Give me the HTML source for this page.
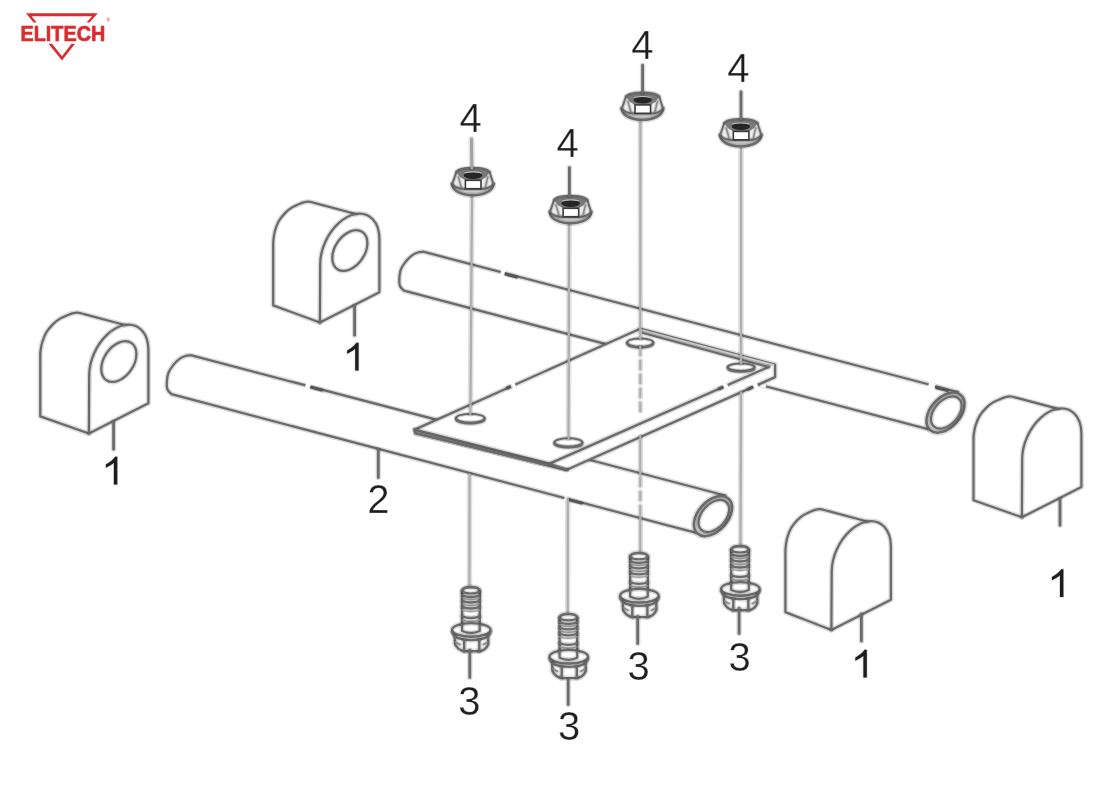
<!DOCTYPE html>
<html><head><meta charset="utf-8"><style>
html,body{margin:0;padding:0;background:#fff;}
body{width:1095px;height:797px;overflow:hidden;font-family:"Liberation Sans",sans-serif;}
svg{display:block;}
</style></head><body>
<svg width="1095" height="797" viewBox="0 0 1095 797">
<rect width="1095" height="797" fill="#fff"/>
<g>
<g fill="#dc2a2e" style="will-change:transform">
<path d="M26,13.3 L97.8,13.3 L89.5,22.6 L86.6,22.6 L92.2,16.3 L31.6,16.3 L36.6,22.6 L33.6,22.6 Z"/>
<path d="M48.5,43.8 L52,43.8 L62,56.3 L71.5,43.8 L75,43.8 L62,60.6 Z"/>
<text x="20.6" y="41" font-family="Liberation Sans" font-weight="bold" font-size="22.6" textLength="84.6" lengthAdjust="spacingAndGlyphs" stroke="#dc2a2e" stroke-width="0.7">ELITECH</text>
</g>
<text x="106.5" y="22" font-family="Liberation Sans" font-size="5" fill="#dc2a2e">®</text>
<path d="M928,429.2 L404,290.7 C403.33,289.92 400.78,287.93 400,286 C399.22,284.07 399.18,281.78 399.3,279.1 C399.42,276.42 399.7,272.73 400.7,269.9 C401.7,267.07 403.47,264.48 405.3,262.1 C407.13,259.72 409.63,257.2 411.7,255.6 C413.77,254 415.78,253.15 417.7,252.5 C419.62,251.85 422.28,251.83 423.2,251.7 L957.7,392" fill="none" stroke="#000" stroke-opacity="0.14" stroke-width="5.1" stroke-linejoin="round" stroke-linecap="round" />
<path d="M928,429.2 L404,290.7 C403.33,289.92 400.78,287.93 400,286 C399.22,284.07 399.18,281.78 399.3,279.1 C399.42,276.42 399.7,272.73 400.7,269.9 C401.7,267.07 403.47,264.48 405.3,262.1 C407.13,259.72 409.63,257.2 411.7,255.6 C413.77,254 415.78,253.15 417.7,252.5 C419.62,251.85 422.28,251.83 423.2,251.7 L957.7,392" fill="none" stroke="#6a6a6a" stroke-width="2.25" stroke-linejoin="round" stroke-linecap="round" />
<path d="M961,395.2 C963.94,397.82 965.13,402.17 964.3,407.28 C963.47,412.4 960.7,417.86 956.59,422.48 C952.48,427.09 947.37,430.48 942.38,431.89 C937.39,433.3 932.94,432.62 930,430 C927.06,427.38 925.87,423.03 926.7,417.92 C927.53,412.8 930.3,407.34 934.41,402.72 C938.52,398.11 943.63,394.72 948.62,393.31 C953.61,391.9 958.06,392.58 961,395.2Z" fill="#e0e0e0"/>
<path d="M961,395.2 C963.94,397.82 965.13,402.17 964.3,407.28 C963.47,412.4 960.7,417.86 956.59,422.48 C952.48,427.09 947.37,430.48 942.38,431.89 C937.39,433.3 932.94,432.62 930,430 C927.06,427.38 925.87,423.03 926.7,417.92 C927.53,412.8 930.3,407.34 934.41,402.72 C938.52,398.11 943.63,394.72 948.62,393.31 C953.61,391.9 958.06,392.58 961,395.2Z" fill="none" stroke="#000" stroke-opacity="0.14" stroke-width="5.78" stroke-linejoin="round" stroke-linecap="round" />
<path d="M961,395.2 C963.94,397.82 965.13,402.17 964.3,407.28 C963.47,412.4 960.7,417.86 956.59,422.48 C952.48,427.09 947.37,430.48 942.38,431.89 C937.39,433.3 932.94,432.62 930,430 C927.06,427.38 925.87,423.03 926.7,417.92 C927.53,412.8 930.3,407.34 934.41,402.72 C938.52,398.11 943.63,394.72 948.62,393.31 C953.61,391.9 958.06,392.58 961,395.2Z" fill="none" stroke="#6a6a6a" stroke-width="2.55" stroke-linejoin="round" stroke-linecap="round" />
<path d="M958.74,398.54 C961.1,400.64 962.05,404.12 961.38,408.22 C960.71,412.33 958.48,416.71 955.18,420.42 C951.89,424.12 947.79,426.84 943.79,427.97 C939.79,429.1 936.22,428.56 933.86,426.46 C931.5,424.36 930.55,420.88 931.22,416.78 C931.89,412.67 934.12,408.29 937.42,404.58 C940.71,400.88 944.81,398.16 948.81,397.03 C952.81,395.9 956.38,396.44 958.74,398.54Z" fill="#fff"/>
<path d="M958.74,398.54 C961.1,400.64 962.05,404.12 961.38,408.22 C960.71,412.33 958.48,416.71 955.18,420.42 C951.89,424.12 947.79,426.84 943.79,427.97 C939.79,429.1 936.22,428.56 933.86,426.46 C931.5,424.36 930.55,420.88 931.22,416.78 C931.89,412.67 934.12,408.29 937.42,404.58 C940.71,400.88 944.81,398.16 948.81,397.03 C952.81,395.9 956.38,396.44 958.74,398.54Z" fill="none" stroke="#000" stroke-opacity="0.14" stroke-width="5.1" stroke-linejoin="round" stroke-linecap="round" />
<path d="M958.74,398.54 C961.1,400.64 962.05,404.12 961.38,408.22 C960.71,412.33 958.48,416.71 955.18,420.42 C951.89,424.12 947.79,426.84 943.79,427.97 C939.79,429.1 936.22,428.56 933.86,426.46 C931.5,424.36 930.55,420.88 931.22,416.78 C931.89,412.67 934.12,408.29 937.42,404.58 C940.71,400.88 944.81,398.16 948.81,397.03 C952.81,395.9 956.38,396.44 958.74,398.54Z" fill="none" stroke="#6a6a6a" stroke-width="2.25" stroke-linejoin="round" stroke-linecap="round" />
<path d="M695.5,532.7 L171.5,394.2 C170.83,393.42 168.28,391.43 167.5,389.5 C166.72,387.57 166.68,385.28 166.8,382.6 C166.92,379.92 167.2,376.23 168.2,373.4 C169.2,370.57 170.97,367.98 172.8,365.6 C174.63,363.22 177.13,360.7 179.2,359.1 C181.27,357.5 183.28,356.65 185.2,356 C187.12,355.35 189.78,355.33 190.7,355.2 L725.2,495.5" fill="none" stroke="#000" stroke-opacity="0.14" stroke-width="5.1" stroke-linejoin="round" stroke-linecap="round" />
<path d="M695.5,532.7 L171.5,394.2 C170.83,393.42 168.28,391.43 167.5,389.5 C166.72,387.57 166.68,385.28 166.8,382.6 C166.92,379.92 167.2,376.23 168.2,373.4 C169.2,370.57 170.97,367.98 172.8,365.6 C174.63,363.22 177.13,360.7 179.2,359.1 C181.27,357.5 183.28,356.65 185.2,356 C187.12,355.35 189.78,355.33 190.7,355.2 L725.2,495.5" fill="none" stroke="#6a6a6a" stroke-width="2.25" stroke-linejoin="round" stroke-linecap="round" />
<path d="M728.5,498.7 C731.44,501.32 732.63,505.67 731.8,510.78 C730.97,515.9 728.2,521.36 724.09,525.98 C719.98,530.59 714.87,533.98 709.88,535.39 C704.89,536.8 700.44,536.12 697.5,533.5 C694.56,530.88 693.37,526.53 694.2,521.42 C695.03,516.3 697.8,510.84 701.91,506.22 C706.02,501.61 711.13,498.22 716.12,496.81 C721.11,495.4 725.56,496.08 728.5,498.7Z" fill="#e0e0e0"/>
<path d="M728.5,498.7 C731.44,501.32 732.63,505.67 731.8,510.78 C730.97,515.9 728.2,521.36 724.09,525.98 C719.98,530.59 714.87,533.98 709.88,535.39 C704.89,536.8 700.44,536.12 697.5,533.5 C694.56,530.88 693.37,526.53 694.2,521.42 C695.03,516.3 697.8,510.84 701.91,506.22 C706.02,501.61 711.13,498.22 716.12,496.81 C721.11,495.4 725.56,496.08 728.5,498.7Z" fill="none" stroke="#000" stroke-opacity="0.14" stroke-width="5.78" stroke-linejoin="round" stroke-linecap="round" />
<path d="M728.5,498.7 C731.44,501.32 732.63,505.67 731.8,510.78 C730.97,515.9 728.2,521.36 724.09,525.98 C719.98,530.59 714.87,533.98 709.88,535.39 C704.89,536.8 700.44,536.12 697.5,533.5 C694.56,530.88 693.37,526.53 694.2,521.42 C695.03,516.3 697.8,510.84 701.91,506.22 C706.02,501.61 711.13,498.22 716.12,496.81 C721.11,495.4 725.56,496.08 728.5,498.7Z" fill="none" stroke="#6a6a6a" stroke-width="2.55" stroke-linejoin="round" stroke-linecap="round" />
<path d="M726.24,502.04 C728.6,504.14 729.55,507.62 728.88,511.72 C728.21,515.83 725.98,520.21 722.68,523.92 C719.39,527.62 715.29,530.34 711.29,531.47 C707.29,532.6 703.72,532.06 701.36,529.96 C699,527.86 698.05,524.38 698.72,520.28 C699.39,516.17 701.62,511.79 704.92,508.08 C708.21,504.38 712.31,501.66 716.31,500.53 C720.31,499.4 723.88,499.94 726.24,502.04Z" fill="#fff"/>
<path d="M726.24,502.04 C728.6,504.14 729.55,507.62 728.88,511.72 C728.21,515.83 725.98,520.21 722.68,523.92 C719.39,527.62 715.29,530.34 711.29,531.47 C707.29,532.6 703.72,532.06 701.36,529.96 C699,527.86 698.05,524.38 698.72,520.28 C699.39,516.17 701.62,511.79 704.92,508.08 C708.21,504.38 712.31,501.66 716.31,500.53 C720.31,499.4 723.88,499.94 726.24,502.04Z" fill="none" stroke="#000" stroke-opacity="0.14" stroke-width="5.1" stroke-linejoin="round" stroke-linecap="round" />
<path d="M726.24,502.04 C728.6,504.14 729.55,507.62 728.88,511.72 C728.21,515.83 725.98,520.21 722.68,523.92 C719.39,527.62 715.29,530.34 711.29,531.47 C707.29,532.6 703.72,532.06 701.36,529.96 C699,527.86 698.05,524.38 698.72,520.28 C699.39,516.17 701.62,511.79 704.92,508.08 C708.21,504.38 712.31,501.66 716.31,500.53 C720.31,499.4 723.88,499.94 726.24,502.04Z" fill="none" stroke="#6a6a6a" stroke-width="2.25" stroke-linejoin="round" stroke-linecap="round" />
<line x1="305.5" y1="385.39" x2="310.5" y2="386.71" stroke="#fff" stroke-width="5" stroke-linecap="butt"/>
<line x1="311.5" y1="387.57" x2="321.5" y2="390.2" stroke="#000" stroke-opacity="0.14" stroke-width="4.94" stroke-linecap="round"/>
<line x1="311.5" y1="387.57" x2="321.5" y2="390.2" stroke="#555" stroke-width="2.66" stroke-linecap="round"/>
<line x1="500.8" y1="272.11" x2="504.8" y2="273.16" stroke="#fff" stroke-width="5" stroke-linecap="butt"/>
<line x1="506" y1="274.38" x2="516.5" y2="277.14" stroke="#000" stroke-opacity="0.14" stroke-width="4.94" stroke-linecap="round"/>
<line x1="506" y1="274.38" x2="516.5" y2="277.14" stroke="#555" stroke-width="2.66" stroke-linecap="round"/>
<line x1="928.6" y1="384.62" x2="935" y2="386.3" stroke="#fff" stroke-width="5" stroke-linecap="butt"/>
<line x1="936.5" y1="387.9" x2="947.5" y2="390.79" stroke="#000" stroke-opacity="0.14" stroke-width="4.94" stroke-linecap="round"/>
<line x1="936.5" y1="387.9" x2="947.5" y2="390.79" stroke="#555" stroke-width="2.66" stroke-linecap="round"/>
<line x1="564.5" y1="498.07" x2="568.2" y2="499.05" stroke="#fff" stroke-width="5" stroke-linecap="butt"/>
<line x1="569.5" y1="499.99" x2="581.5" y2="503.16" stroke="#000" stroke-opacity="0.14" stroke-width="4.94" stroke-linecap="round"/>
<line x1="569.5" y1="499.99" x2="581.5" y2="503.16" stroke="#555" stroke-width="2.66" stroke-linecap="round"/>
<line x1="759.8" y1="384.74" x2="765.8" y2="386.32" stroke="#fff" stroke-width="3.4"/>
<path d="M414.6,429.6 L640.2,328.7 L775.1,364.5 L775.1,377.1 L566.8,469.8 L415.6,433.2 Z" fill="#fff"/>
<path d="M414.6,429.6 L640.2,328.7 L775.1,364.5 L775.1,377.1 L566.8,469.8 L415.6,433.2 Z" fill="none" stroke="#000" stroke-opacity="0.14" stroke-width="5.1" stroke-linejoin="round" stroke-linecap="round" />
<path d="M414.6,429.6 L640.2,328.7 L775.1,364.5 L775.1,377.1 L566.8,469.8 L415.6,433.2 Z" fill="none" stroke="#6a6a6a" stroke-width="2.25" stroke-linejoin="round" stroke-linecap="round" />
<path d="M414.6,429.6 L549.6,463.6 L566.8,469.8 L415.6,433.2 Z" fill="#b8b8b8"/>
<path d="M640.2,328.7 L775.1,364.5 L768.5,367 L643,333 Z" fill="#cccccc"/>
<path d="M414.6,429.6 L549.6,463.6 L768.5,367" fill="none" stroke="#000" stroke-opacity="0.14" stroke-width="5.44" stroke-linejoin="round" stroke-linecap="round" />
<path d="M414.6,429.6 L549.6,463.6 L768.5,367" fill="none" stroke="#6a6a6a" stroke-width="2.4" stroke-linejoin="round" stroke-linecap="round" />
<path d="M415.6,433.2 L566.8,469.8" fill="none" stroke="#000" stroke-opacity="0.14" stroke-width="5.44" stroke-linejoin="round" stroke-linecap="round" />
<path d="M415.6,433.2 L566.8,469.8" fill="none" stroke="#6a6a6a" stroke-width="2.4" stroke-linejoin="round" stroke-linecap="round" />
<path d="M643,333 L768.5,367" fill="none" stroke="#000" stroke-opacity="0.14" stroke-width="4.76" stroke-linejoin="round" stroke-linecap="round" />
<path d="M643,333 L768.5,367" fill="none" stroke="#6a6a6a" stroke-width="2.1" stroke-linejoin="round" stroke-linecap="round" />
<path d="M549.6,463.6 L566.8,469.8" fill="none" stroke="#000" stroke-opacity="0.14" stroke-width="4.42" stroke-linejoin="round" stroke-linecap="round" />
<path d="M549.6,463.6 L566.8,469.8" fill="none" stroke="#6a6a6a" stroke-width="1.95" stroke-linejoin="round" stroke-linecap="round" />
<line x1="510.8" y1="386.57" x2="515.2" y2="384.61" stroke="#fff" stroke-width="5" stroke-linecap="butt"/>
<line x1="507.5" y1="387.85" x2="509.8" y2="386.82" stroke="#000" stroke-opacity="0.14" stroke-width="5.72" stroke-linecap="round"/>
<line x1="507.5" y1="387.85" x2="509.8" y2="386.82" stroke="#555" stroke-width="3.08" stroke-linecap="round"/>
<line x1="723.3" y1="386.95" x2="727.6" y2="385.05" stroke="#fff" stroke-width="5" stroke-linecap="butt"/>
<line x1="719.5" y1="388.62" x2="722.2" y2="387.43" stroke="#000" stroke-opacity="0.14" stroke-width="5.2" stroke-linecap="round"/>
<line x1="719.5" y1="388.62" x2="722.2" y2="387.43" stroke="#555" stroke-width="2.8" stroke-linecap="round"/>
<line x1="753.4" y1="386.76" x2="757.6" y2="384.89" stroke="#fff" stroke-width="5" stroke-linecap="butt"/>
<line x1="748.5" y1="388.94" x2="751.5" y2="387.6" stroke="#000" stroke-opacity="0.14" stroke-width="5.2" stroke-linecap="round"/>
<line x1="748.5" y1="388.94" x2="751.5" y2="387.6" stroke="#555" stroke-width="2.8" stroke-linecap="round"/>
<path d="M484.7,418.3 C484.7,419.47 483.18,420.59 480.48,421.41 C477.78,422.24 474.12,422.7 470.3,422.7 C466.48,422.7 462.82,422.24 460.12,421.41 C457.42,420.59 455.9,419.47 455.9,418.3 C455.9,417.13 457.42,416.01 460.12,415.19 C462.82,414.36 466.48,413.9 470.3,413.9 C474.12,413.9 477.78,414.36 480.48,415.19 C483.18,416.01 484.7,417.13 484.7,418.3Z" fill="none" stroke="#000" stroke-opacity="0.14" stroke-width="4.42" stroke-linejoin="round" stroke-linecap="round" />
<path d="M484.7,418.3 C484.7,419.47 483.18,420.59 480.48,421.41 C477.78,422.24 474.12,422.7 470.3,422.7 C466.48,422.7 462.82,422.24 460.12,421.41 C457.42,420.59 455.9,419.47 455.9,418.3 C455.9,417.13 457.42,416.01 460.12,415.19 C462.82,414.36 466.48,413.9 470.3,413.9 C474.12,413.9 477.78,414.36 480.48,415.19 C483.18,416.01 484.7,417.13 484.7,418.3Z" fill="none" stroke="#6a6a6a" stroke-width="1.95" stroke-linejoin="round" stroke-linecap="round" />
<path d="M484.2,419.5 C484.2,420.53 482.74,421.53 480.13,422.26 C477.52,422.99 473.99,423.4 470.3,423.4 C466.61,423.4 463.08,422.99 460.47,422.26 C457.86,421.53 456.4,420.53 456.4,419.5" fill="none" stroke="#000" stroke-opacity="0.14" stroke-width="5.1" stroke-linejoin="round" stroke-linecap="round" />
<path d="M484.2,419.5 C484.2,420.53 482.74,421.53 480.13,422.26 C477.52,422.99 473.99,423.4 470.3,423.4 C466.61,423.4 463.08,422.99 460.47,422.26 C457.86,421.53 456.4,420.53 456.4,419.5" fill="none" stroke="#6a6a6a" stroke-width="2.25" stroke-linejoin="round" stroke-linecap="round" />
<path d="M582.5,442.5 C582.5,443.61 581.01,444.68 578.37,445.47 C575.73,446.26 572.14,446.7 568.4,446.7 C564.66,446.7 561.07,446.26 558.43,445.47 C555.79,444.68 554.3,443.61 554.3,442.5 C554.3,441.39 555.79,440.32 558.43,439.53 C561.07,438.74 564.66,438.3 568.4,438.3 C572.14,438.3 575.73,438.74 578.37,439.53 C581.01,440.32 582.5,441.39 582.5,442.5Z" fill="none" stroke="#000" stroke-opacity="0.14" stroke-width="4.42" stroke-linejoin="round" stroke-linecap="round" />
<path d="M582.5,442.5 C582.5,443.61 581.01,444.68 578.37,445.47 C575.73,446.26 572.14,446.7 568.4,446.7 C564.66,446.7 561.07,446.26 558.43,445.47 C555.79,444.68 554.3,443.61 554.3,442.5 C554.3,441.39 555.79,440.32 558.43,439.53 C561.07,438.74 564.66,438.3 568.4,438.3 C572.14,438.3 575.73,438.74 578.37,439.53 C581.01,440.32 582.5,441.39 582.5,442.5Z" fill="none" stroke="#6a6a6a" stroke-width="1.95" stroke-linejoin="round" stroke-linecap="round" />
<path d="M582,443.7 C582,444.68 580.57,445.62 578.02,446.32 C575.47,447.01 572.01,447.4 568.4,447.4 C564.79,447.4 561.33,447.01 558.78,446.32 C556.23,445.62 554.8,444.68 554.8,443.7" fill="none" stroke="#000" stroke-opacity="0.14" stroke-width="5.1" stroke-linejoin="round" stroke-linecap="round" />
<path d="M582,443.7 C582,444.68 580.57,445.62 578.02,446.32 C575.47,447.01 572.01,447.4 568.4,447.4 C564.79,447.4 561.33,447.01 558.78,446.32 C556.23,445.62 554.8,444.68 554.8,443.7" fill="none" stroke="#6a6a6a" stroke-width="2.25" stroke-linejoin="round" stroke-linecap="round" />
<path d="M653.4,342.6 C653.4,343.71 652.01,344.78 649.53,345.57 C647.06,346.36 643.7,346.8 640.2,346.8 C636.7,346.8 633.34,346.36 630.87,345.57 C628.39,344.78 627,343.71 627,342.6 C627,341.49 628.39,340.42 630.87,339.63 C633.34,338.84 636.7,338.4 640.2,338.4 C643.7,338.4 647.06,338.84 649.53,339.63 C652.01,340.42 653.4,341.49 653.4,342.6Z" fill="none" stroke="#000" stroke-opacity="0.14" stroke-width="4.42" stroke-linejoin="round" stroke-linecap="round" />
<path d="M653.4,342.6 C653.4,343.71 652.01,344.78 649.53,345.57 C647.06,346.36 643.7,346.8 640.2,346.8 C636.7,346.8 633.34,346.36 630.87,345.57 C628.39,344.78 627,343.71 627,342.6 C627,341.49 628.39,340.42 630.87,339.63 C633.34,338.84 636.7,338.4 640.2,338.4 C643.7,338.4 647.06,338.84 649.53,339.63 C652.01,340.42 653.4,341.49 653.4,342.6Z" fill="none" stroke="#6a6a6a" stroke-width="1.95" stroke-linejoin="round" stroke-linecap="round" />
<path d="M652.9,343.8 C652.9,344.78 651.56,345.72 649.18,346.42 C646.8,347.11 643.57,347.5 640.2,347.5 C636.83,347.5 633.6,347.11 631.22,346.42 C628.84,345.72 627.5,344.78 627.5,343.8" fill="none" stroke="#000" stroke-opacity="0.14" stroke-width="5.1" stroke-linejoin="round" stroke-linecap="round" />
<path d="M652.9,343.8 C652.9,344.78 651.56,345.72 649.18,346.42 C646.8,347.11 643.57,347.5 640.2,347.5 C636.83,347.5 633.6,347.11 631.22,346.42 C628.84,345.72 627.5,344.78 627.5,343.8" fill="none" stroke="#6a6a6a" stroke-width="2.25" stroke-linejoin="round" stroke-linecap="round" />
<path d="M754.6,367.2 C754.6,368.21 753.18,369.17 750.65,369.89 C748.11,370.6 744.68,371 741.1,371 C737.52,371 734.09,370.6 731.55,369.89 C729.02,369.17 727.6,368.21 727.6,367.2 C727.6,366.19 729.02,365.23 731.55,364.51 C734.09,363.8 737.52,363.4 741.1,363.4 C744.68,363.4 748.11,363.8 750.65,364.51 C753.18,365.23 754.6,366.19 754.6,367.2Z" fill="none" stroke="#000" stroke-opacity="0.14" stroke-width="4.42" stroke-linejoin="round" stroke-linecap="round" />
<path d="M754.6,367.2 C754.6,368.21 753.18,369.17 750.65,369.89 C748.11,370.6 744.68,371 741.1,371 C737.52,371 734.09,370.6 731.55,369.89 C729.02,369.17 727.6,368.21 727.6,367.2 C727.6,366.19 729.02,365.23 731.55,364.51 C734.09,363.8 737.52,363.4 741.1,363.4 C744.68,363.4 748.11,363.8 750.65,364.51 C753.18,365.23 754.6,366.19 754.6,367.2Z" fill="none" stroke="#6a6a6a" stroke-width="1.95" stroke-linejoin="round" stroke-linecap="round" />
<path d="M754.1,368.4 C754.1,369.28 752.73,370.11 750.29,370.73 C747.85,371.35 744.55,371.7 741.1,371.7 C737.65,371.7 734.35,371.35 731.91,370.73 C729.47,370.11 728.1,369.28 728.1,368.4" fill="none" stroke="#000" stroke-opacity="0.14" stroke-width="5.1" stroke-linejoin="round" stroke-linecap="round" />
<path d="M754.1,368.4 C754.1,369.28 752.73,370.11 750.29,370.73 C747.85,371.35 744.55,371.7 741.1,371.7 C737.65,371.7 734.35,371.35 731.91,370.73 C729.47,370.11 728.1,369.28 728.1,368.4" fill="none" stroke="#6a6a6a" stroke-width="2.25" stroke-linejoin="round" stroke-linecap="round" />
<line x1="472" y1="196" x2="470.4" y2="414" fill="none" stroke="#000" stroke-opacity="0.12" stroke-width="5.5" stroke-linejoin="round" stroke-linecap="round" />
<line x1="472" y1="196" x2="470.4" y2="414" fill="none" stroke="#afafaf" stroke-width="2.3" stroke-linejoin="round" stroke-linecap="round" />
<line x1="469.6" y1="474.5" x2="469.4" y2="586" fill="none" stroke="#000" stroke-opacity="0.12" stroke-width="5.5" stroke-linejoin="round" stroke-linecap="round" />
<line x1="469.6" y1="474.5" x2="469.4" y2="586" fill="none" stroke="#afafaf" stroke-width="2.3" stroke-linejoin="round" stroke-linecap="round" />
<line x1="569.1" y1="222" x2="568.5" y2="438.5" fill="none" stroke="#000" stroke-opacity="0.12" stroke-width="5.5" stroke-linejoin="round" stroke-linecap="round" />
<line x1="569.1" y1="222" x2="568.5" y2="438.5" fill="none" stroke="#afafaf" stroke-width="2.3" stroke-linejoin="round" stroke-linecap="round" />
<line x1="567.8" y1="499" x2="567.7" y2="612.7" fill="none" stroke="#000" stroke-opacity="0.12" stroke-width="5.5" stroke-linejoin="round" stroke-linecap="round" />
<line x1="567.8" y1="499" x2="567.7" y2="612.7" fill="none" stroke="#afafaf" stroke-width="2.3" stroke-linejoin="round" stroke-linecap="round" />
<line x1="640.4" y1="119" x2="640.3" y2="338.4" fill="none" stroke="#000" stroke-opacity="0.12" stroke-width="5.5" stroke-linejoin="round" stroke-linecap="round" />
<line x1="640.4" y1="119" x2="640.3" y2="338.4" fill="none" stroke="#afafaf" stroke-width="2.3" stroke-linejoin="round" stroke-linecap="round" />
<line x1="640.3" y1="347" x2="640.3" y2="414" fill="none" stroke="#000" stroke-opacity="0.12" stroke-width="5.5" stroke-linejoin="round" stroke-linecap="round" stroke-dasharray="8,6"/>
<line x1="640.3" y1="347" x2="640.3" y2="414" fill="none" stroke="#afafaf" stroke-width="2.3" stroke-linejoin="round" stroke-linecap="round" stroke-dasharray="8,6"/>
<line x1="640.3" y1="437" x2="640.3" y2="474" fill="none" stroke="#000" stroke-opacity="0.12" stroke-width="5.5" stroke-linejoin="round" stroke-linecap="round" />
<line x1="640.3" y1="437" x2="640.3" y2="474" fill="none" stroke="#afafaf" stroke-width="2.3" stroke-linejoin="round" stroke-linecap="round" />
<line x1="640.3" y1="478" x2="640.3" y2="517.5" fill="none" stroke="#000" stroke-opacity="0.12" stroke-width="5.5" stroke-linejoin="round" stroke-linecap="round" stroke-dasharray="8,6"/>
<line x1="640.3" y1="478" x2="640.3" y2="517.5" fill="none" stroke="#afafaf" stroke-width="2.3" stroke-linejoin="round" stroke-linecap="round" stroke-dasharray="8,6"/>
<line x1="640.3" y1="517.5" x2="640.3" y2="552" fill="none" stroke="#000" stroke-opacity="0.12" stroke-width="5.5" stroke-linejoin="round" stroke-linecap="round" />
<line x1="640.3" y1="517.5" x2="640.3" y2="552" fill="none" stroke="#afafaf" stroke-width="2.3" stroke-linejoin="round" stroke-linecap="round" />
<line x1="741" y1="145" x2="741" y2="363.4" fill="none" stroke="#000" stroke-opacity="0.12" stroke-width="5.5" stroke-linejoin="round" stroke-linecap="round" />
<line x1="741" y1="145" x2="741" y2="363.4" fill="none" stroke="#afafaf" stroke-width="2.3" stroke-linejoin="round" stroke-linecap="round" />
<line x1="741" y1="392.5" x2="740.5" y2="545.5" fill="none" stroke="#000" stroke-opacity="0.12" stroke-width="5.5" stroke-linejoin="round" stroke-linecap="round" />
<line x1="741" y1="392.5" x2="740.5" y2="545.5" fill="none" stroke="#afafaf" stroke-width="2.3" stroke-linejoin="round" stroke-linecap="round" />
<path d="M452.2,183.9 C452.2,190.4 460.8,195.3 472.8,195.3 C484.8,195.3 493.4,190.4 493.4,183.9 C491.8,187.4 482.8,189.4 472.8,189.4 C462.8,189.4 453.8,187.4 452.2,183.9 Z" fill="#c9c9c9"/>
<path d="M452.2,183.9 C452.2,190.4 460.8,195.3 472.8,195.3 C484.8,195.3 493.4,190.4 493.4,183.9" fill="none" stroke="#000" stroke-opacity="0.14" stroke-width="5.44" stroke-linejoin="round" stroke-linecap="round" />
<path d="M452.2,183.9 C452.2,190.4 460.8,195.3 472.8,195.3 C484.8,195.3 493.4,190.4 493.4,183.9" fill="none" stroke="#6a6a6a" stroke-width="2.4" stroke-linejoin="round" stroke-linecap="round" />
<path d="M456.4,171.9 L452.2,183.9 L465.4,188.9 L465.4,180.3 Z M489.6,171.9 L493.4,183.9 L481,188.9 L481,180.3 Z" fill="#ececec"/>
<path d="M452.2,183.9 C453.8,187.4 460.8,188.9 465.4,188.9 L481,188.9 C484.8,188.9 491.8,187.4 493.4,183.9" fill="none" stroke="#000" stroke-opacity="0.14" stroke-width="4.42" stroke-linejoin="round" stroke-linecap="round" />
<path d="M452.2,183.9 C453.8,187.4 460.8,188.9 465.4,188.9 L481,188.9 C484.8,188.9 491.8,187.4 493.4,183.9" fill="none" stroke="#6a6a6a" stroke-width="1.95" stroke-linejoin="round" stroke-linecap="round" />
<path d="M456.4,171.9 L452.2,183.9" fill="none" stroke="#000" stroke-opacity="0.14" stroke-width="4.42" stroke-linejoin="round" stroke-linecap="round" />
<path d="M456.4,171.9 L452.2,183.9" fill="none" stroke="#6a6a6a" stroke-width="1.95" stroke-linejoin="round" stroke-linecap="round" />
<path d="M489.6,171.9 L493.4,183.9" fill="none" stroke="#000" stroke-opacity="0.14" stroke-width="4.42" stroke-linejoin="round" stroke-linecap="round" />
<path d="M489.6,171.9 L493.4,183.9" fill="none" stroke="#6a6a6a" stroke-width="1.95" stroke-linejoin="round" stroke-linecap="round" />
<path d="M458.3,176.9 L461.3,187.4" fill="none" stroke="#000" stroke-opacity="0.14" stroke-width="3.4" stroke-linejoin="round" stroke-linecap="round" />
<path d="M458.3,176.9 L461.3,187.4" fill="none" stroke="#8a8a8a" stroke-width="1.5" stroke-linejoin="round" stroke-linecap="round" />
<path d="M487.8,176.9 L485.3,187.4" fill="none" stroke="#000" stroke-opacity="0.14" stroke-width="3.4" stroke-linejoin="round" stroke-linecap="round" />
<path d="M487.8,176.9 L485.3,187.4" fill="none" stroke="#8a8a8a" stroke-width="1.5" stroke-linejoin="round" stroke-linecap="round" />
<path d="M456.4,171.9 C457.8,168.5 465.8,167.7 473,167.7 C480.2,167.7 488,168.5 489.6,171.9 L486.3,176.9 L481,180.3 L465.4,180.3 L459.8,176.9 Z" fill="#7a7a7a"/>
<path d="M456.4,171.9 C457.8,168.5 465.8,167.7 473,167.7 C480.2,167.7 488,168.5 489.6,171.9" fill="none" stroke="#000" stroke-opacity="0.14" stroke-width="4.08" stroke-linejoin="round" stroke-linecap="round" />
<path d="M456.4,171.9 C457.8,168.5 465.8,167.7 473,167.7 C480.2,167.7 488,168.5 489.6,171.9" fill="none" stroke="#6a6a6a" stroke-width="1.8" stroke-linejoin="round" stroke-linecap="round" />
<ellipse cx="473" cy="175.5" rx="9.2" ry="3.4" fill="#262626"/>
<path d="M464.8,172.7 Q473,171.1 481.2,172.7" fill="none" stroke="#000" stroke-opacity="0.14" stroke-width="2.38" stroke-linejoin="round" stroke-linecap="round" />
<path d="M464.8,172.7 Q473,171.1 481.2,172.7" fill="none" stroke="#c3c3c3" stroke-width="1.05" stroke-linejoin="round" stroke-linecap="round" />
<rect x="465.4" y="180.3" width="15.6" height="8.4" fill="#fff" stroke="#3a3a3a" stroke-width="1.6"/>
<path d="M549.9,211.9 C549.9,218.4 558.5,223.3 570.5,223.3 C582.5,223.3 591.1,218.4 591.1,211.9 C589.5,215.4 580.5,217.4 570.5,217.4 C560.5,217.4 551.5,215.4 549.9,211.9 Z" fill="#c9c9c9"/>
<path d="M549.9,211.9 C549.9,218.4 558.5,223.3 570.5,223.3 C582.5,223.3 591.1,218.4 591.1,211.9" fill="none" stroke="#000" stroke-opacity="0.14" stroke-width="5.44" stroke-linejoin="round" stroke-linecap="round" />
<path d="M549.9,211.9 C549.9,218.4 558.5,223.3 570.5,223.3 C582.5,223.3 591.1,218.4 591.1,211.9" fill="none" stroke="#6a6a6a" stroke-width="2.4" stroke-linejoin="round" stroke-linecap="round" />
<path d="M554.1,199.9 L549.9,211.9 L563.1,216.9 L563.1,208.3 Z M587.3,199.9 L591.1,211.9 L578.7,216.9 L578.7,208.3 Z" fill="#ececec"/>
<path d="M549.9,211.9 C551.5,215.4 558.5,216.9 563.1,216.9 L578.7,216.9 C582.5,216.9 589.5,215.4 591.1,211.9" fill="none" stroke="#000" stroke-opacity="0.14" stroke-width="4.42" stroke-linejoin="round" stroke-linecap="round" />
<path d="M549.9,211.9 C551.5,215.4 558.5,216.9 563.1,216.9 L578.7,216.9 C582.5,216.9 589.5,215.4 591.1,211.9" fill="none" stroke="#6a6a6a" stroke-width="1.95" stroke-linejoin="round" stroke-linecap="round" />
<path d="M554.1,199.9 L549.9,211.9" fill="none" stroke="#000" stroke-opacity="0.14" stroke-width="4.42" stroke-linejoin="round" stroke-linecap="round" />
<path d="M554.1,199.9 L549.9,211.9" fill="none" stroke="#6a6a6a" stroke-width="1.95" stroke-linejoin="round" stroke-linecap="round" />
<path d="M587.3,199.9 L591.1,211.9" fill="none" stroke="#000" stroke-opacity="0.14" stroke-width="4.42" stroke-linejoin="round" stroke-linecap="round" />
<path d="M587.3,199.9 L591.1,211.9" fill="none" stroke="#6a6a6a" stroke-width="1.95" stroke-linejoin="round" stroke-linecap="round" />
<path d="M556,204.9 L559,215.4" fill="none" stroke="#000" stroke-opacity="0.14" stroke-width="3.4" stroke-linejoin="round" stroke-linecap="round" />
<path d="M556,204.9 L559,215.4" fill="none" stroke="#8a8a8a" stroke-width="1.5" stroke-linejoin="round" stroke-linecap="round" />
<path d="M585.5,204.9 L583,215.4" fill="none" stroke="#000" stroke-opacity="0.14" stroke-width="3.4" stroke-linejoin="round" stroke-linecap="round" />
<path d="M585.5,204.9 L583,215.4" fill="none" stroke="#8a8a8a" stroke-width="1.5" stroke-linejoin="round" stroke-linecap="round" />
<path d="M554.1,199.9 C555.5,196.5 563.5,195.7 570.7,195.7 C577.9,195.7 585.7,196.5 587.3,199.9 L584,204.9 L578.7,208.3 L563.1,208.3 L557.5,204.9 Z" fill="#7a7a7a"/>
<path d="M554.1,199.9 C555.5,196.5 563.5,195.7 570.7,195.7 C577.9,195.7 585.7,196.5 587.3,199.9" fill="none" stroke="#000" stroke-opacity="0.14" stroke-width="4.08" stroke-linejoin="round" stroke-linecap="round" />
<path d="M554.1,199.9 C555.5,196.5 563.5,195.7 570.7,195.7 C577.9,195.7 585.7,196.5 587.3,199.9" fill="none" stroke="#6a6a6a" stroke-width="1.8" stroke-linejoin="round" stroke-linecap="round" />
<ellipse cx="570.7" cy="203.5" rx="9.2" ry="3.4" fill="#262626"/>
<path d="M562.5,200.7 Q570.7,199.1 578.9,200.7" fill="none" stroke="#000" stroke-opacity="0.14" stroke-width="2.38" stroke-linejoin="round" stroke-linecap="round" />
<path d="M562.5,200.7 Q570.7,199.1 578.9,200.7" fill="none" stroke="#c3c3c3" stroke-width="1.05" stroke-linejoin="round" stroke-linecap="round" />
<rect x="563.1" y="208.3" width="15.6" height="8.4" fill="#fff" stroke="#3a3a3a" stroke-width="1.6"/>
<path d="M621.8,108.5 C621.8,115 630.4,119.9 642.4,119.9 C654.4,119.9 663,115 663,108.5 C661.4,112 652.4,114 642.4,114 C632.4,114 623.4,112 621.8,108.5 Z" fill="#c9c9c9"/>
<path d="M621.8,108.5 C621.8,115 630.4,119.9 642.4,119.9 C654.4,119.9 663,115 663,108.5" fill="none" stroke="#000" stroke-opacity="0.14" stroke-width="5.44" stroke-linejoin="round" stroke-linecap="round" />
<path d="M621.8,108.5 C621.8,115 630.4,119.9 642.4,119.9 C654.4,119.9 663,115 663,108.5" fill="none" stroke="#6a6a6a" stroke-width="2.4" stroke-linejoin="round" stroke-linecap="round" />
<path d="M626,96.5 L621.8,108.5 L635,113.5 L635,104.9 Z M659.2,96.5 L663,108.5 L650.6,113.5 L650.6,104.9 Z" fill="#ececec"/>
<path d="M621.8,108.5 C623.4,112 630.4,113.5 635,113.5 L650.6,113.5 C654.4,113.5 661.4,112 663,108.5" fill="none" stroke="#000" stroke-opacity="0.14" stroke-width="4.42" stroke-linejoin="round" stroke-linecap="round" />
<path d="M621.8,108.5 C623.4,112 630.4,113.5 635,113.5 L650.6,113.5 C654.4,113.5 661.4,112 663,108.5" fill="none" stroke="#6a6a6a" stroke-width="1.95" stroke-linejoin="round" stroke-linecap="round" />
<path d="M626,96.5 L621.8,108.5" fill="none" stroke="#000" stroke-opacity="0.14" stroke-width="4.42" stroke-linejoin="round" stroke-linecap="round" />
<path d="M626,96.5 L621.8,108.5" fill="none" stroke="#6a6a6a" stroke-width="1.95" stroke-linejoin="round" stroke-linecap="round" />
<path d="M659.2,96.5 L663,108.5" fill="none" stroke="#000" stroke-opacity="0.14" stroke-width="4.42" stroke-linejoin="round" stroke-linecap="round" />
<path d="M659.2,96.5 L663,108.5" fill="none" stroke="#6a6a6a" stroke-width="1.95" stroke-linejoin="round" stroke-linecap="round" />
<path d="M627.9,101.5 L630.9,112" fill="none" stroke="#000" stroke-opacity="0.14" stroke-width="3.4" stroke-linejoin="round" stroke-linecap="round" />
<path d="M627.9,101.5 L630.9,112" fill="none" stroke="#8a8a8a" stroke-width="1.5" stroke-linejoin="round" stroke-linecap="round" />
<path d="M657.4,101.5 L654.9,112" fill="none" stroke="#000" stroke-opacity="0.14" stroke-width="3.4" stroke-linejoin="round" stroke-linecap="round" />
<path d="M657.4,101.5 L654.9,112" fill="none" stroke="#8a8a8a" stroke-width="1.5" stroke-linejoin="round" stroke-linecap="round" />
<path d="M626,96.5 C627.4,93.1 635.4,92.3 642.6,92.3 C649.8,92.3 657.6,93.1 659.2,96.5 L655.9,101.5 L650.6,104.9 L635,104.9 L629.4,101.5 Z" fill="#7a7a7a"/>
<path d="M626,96.5 C627.4,93.1 635.4,92.3 642.6,92.3 C649.8,92.3 657.6,93.1 659.2,96.5" fill="none" stroke="#000" stroke-opacity="0.14" stroke-width="4.08" stroke-linejoin="round" stroke-linecap="round" />
<path d="M626,96.5 C627.4,93.1 635.4,92.3 642.6,92.3 C649.8,92.3 657.6,93.1 659.2,96.5" fill="none" stroke="#6a6a6a" stroke-width="1.8" stroke-linejoin="round" stroke-linecap="round" />
<ellipse cx="642.6" cy="100.1" rx="9.2" ry="3.4" fill="#262626"/>
<path d="M634.4,97.3 Q642.6,95.7 650.8,97.3" fill="none" stroke="#000" stroke-opacity="0.14" stroke-width="2.38" stroke-linejoin="round" stroke-linecap="round" />
<path d="M634.4,97.3 Q642.6,95.7 650.8,97.3" fill="none" stroke="#c3c3c3" stroke-width="1.05" stroke-linejoin="round" stroke-linecap="round" />
<rect x="635" y="104.9" width="15.6" height="8.4" fill="#fff" stroke="#3a3a3a" stroke-width="1.6"/>
<path d="M720.1,135 C720.1,141.5 728.7,146.4 740.7,146.4 C752.7,146.4 761.3,141.5 761.3,135 C759.7,138.5 750.7,140.5 740.7,140.5 C730.7,140.5 721.7,138.5 720.1,135 Z" fill="#c9c9c9"/>
<path d="M720.1,135 C720.1,141.5 728.7,146.4 740.7,146.4 C752.7,146.4 761.3,141.5 761.3,135" fill="none" stroke="#000" stroke-opacity="0.14" stroke-width="5.44" stroke-linejoin="round" stroke-linecap="round" />
<path d="M720.1,135 C720.1,141.5 728.7,146.4 740.7,146.4 C752.7,146.4 761.3,141.5 761.3,135" fill="none" stroke="#6a6a6a" stroke-width="2.4" stroke-linejoin="round" stroke-linecap="round" />
<path d="M724.3,123 L720.1,135 L733.3,140 L733.3,131.4 Z M757.5,123 L761.3,135 L748.9,140 L748.9,131.4 Z" fill="#ececec"/>
<path d="M720.1,135 C721.7,138.5 728.7,140 733.3,140 L748.9,140 C752.7,140 759.7,138.5 761.3,135" fill="none" stroke="#000" stroke-opacity="0.14" stroke-width="4.42" stroke-linejoin="round" stroke-linecap="round" />
<path d="M720.1,135 C721.7,138.5 728.7,140 733.3,140 L748.9,140 C752.7,140 759.7,138.5 761.3,135" fill="none" stroke="#6a6a6a" stroke-width="1.95" stroke-linejoin="round" stroke-linecap="round" />
<path d="M724.3,123 L720.1,135" fill="none" stroke="#000" stroke-opacity="0.14" stroke-width="4.42" stroke-linejoin="round" stroke-linecap="round" />
<path d="M724.3,123 L720.1,135" fill="none" stroke="#6a6a6a" stroke-width="1.95" stroke-linejoin="round" stroke-linecap="round" />
<path d="M757.5,123 L761.3,135" fill="none" stroke="#000" stroke-opacity="0.14" stroke-width="4.42" stroke-linejoin="round" stroke-linecap="round" />
<path d="M757.5,123 L761.3,135" fill="none" stroke="#6a6a6a" stroke-width="1.95" stroke-linejoin="round" stroke-linecap="round" />
<path d="M726.2,128 L729.2,138.5" fill="none" stroke="#000" stroke-opacity="0.14" stroke-width="3.4" stroke-linejoin="round" stroke-linecap="round" />
<path d="M726.2,128 L729.2,138.5" fill="none" stroke="#8a8a8a" stroke-width="1.5" stroke-linejoin="round" stroke-linecap="round" />
<path d="M755.7,128 L753.2,138.5" fill="none" stroke="#000" stroke-opacity="0.14" stroke-width="3.4" stroke-linejoin="round" stroke-linecap="round" />
<path d="M755.7,128 L753.2,138.5" fill="none" stroke="#8a8a8a" stroke-width="1.5" stroke-linejoin="round" stroke-linecap="round" />
<path d="M724.3,123 C725.7,119.6 733.7,118.8 740.9,118.8 C748.1,118.8 755.9,119.6 757.5,123 L754.2,128 L748.9,131.4 L733.3,131.4 L727.7,128 Z" fill="#7a7a7a"/>
<path d="M724.3,123 C725.7,119.6 733.7,118.8 740.9,118.8 C748.1,118.8 755.9,119.6 757.5,123" fill="none" stroke="#000" stroke-opacity="0.14" stroke-width="4.08" stroke-linejoin="round" stroke-linecap="round" />
<path d="M724.3,123 C725.7,119.6 733.7,118.8 740.9,118.8 C748.1,118.8 755.9,119.6 757.5,123" fill="none" stroke="#6a6a6a" stroke-width="1.8" stroke-linejoin="round" stroke-linecap="round" />
<ellipse cx="740.9" cy="126.6" rx="9.2" ry="3.4" fill="#262626"/>
<path d="M732.7,123.8 Q740.9,122.2 749.1,123.8" fill="none" stroke="#000" stroke-opacity="0.14" stroke-width="2.38" stroke-linejoin="round" stroke-linecap="round" />
<path d="M732.7,123.8 Q740.9,122.2 749.1,123.8" fill="none" stroke="#c3c3c3" stroke-width="1.05" stroke-linejoin="round" stroke-linecap="round" />
<rect x="733.3" y="131.4" width="15.6" height="8.4" fill="#fff" stroke="#3a3a3a" stroke-width="1.6"/>
<path d="M462.1,591 L462.1,630.5 M479.7,591 L479.7,630.5" fill="none" stroke="#000" stroke-opacity="0.14" stroke-width="5.44" stroke-linejoin="round" stroke-linecap="round" />
<path d="M462.1,591 L462.1,630.5 M479.7,591 L479.7,630.5" fill="none" stroke="#6a6a6a" stroke-width="2.4" stroke-linejoin="round" stroke-linecap="round" />
<path d="M462.1,591 C462.1,587.7 466.4,587.1 470.9,587.1 C475.4,587.1 479.7,587.7 479.7,591" fill="none" stroke="#000" stroke-opacity="0.14" stroke-width="5.78" stroke-linejoin="round" stroke-linecap="round" />
<path d="M462.1,591 C462.1,587.7 466.4,587.1 470.9,587.1 C475.4,587.1 479.7,587.7 479.7,591" fill="none" stroke="#6a6a6a" stroke-width="2.55" stroke-linejoin="round" stroke-linecap="round" />
<path d="M462.6,592 Q470.9,595 479.2,592" fill="none" stroke="#000" stroke-opacity="0.14" stroke-width="4.42" stroke-linejoin="round" stroke-linecap="round" />
<path d="M462.6,592 Q470.9,595 479.2,592" fill="none" stroke="#6a6a6a" stroke-width="1.95" stroke-linejoin="round" stroke-linecap="round" />
<path d="M462.1,595.4 Q470.9,598.6 479.7,595.4" fill="none" stroke="#000" stroke-opacity="0.14" stroke-width="5.1" stroke-linejoin="round" stroke-linecap="round" />
<path d="M462.1,595.4 Q470.9,598.6 479.7,595.4" fill="none" stroke="#6a6a6a" stroke-width="2.25" stroke-linejoin="round" stroke-linecap="round" />
<path d="M462.1,597.9 Q470.9,601.1 479.7,597.9" fill="none" stroke="#000" stroke-opacity="0.14" stroke-width="3.06" stroke-linejoin="round" stroke-linecap="round" />
<path d="M462.1,597.9 Q470.9,601.1 479.7,597.9" fill="none" stroke="#979797" stroke-width="1.35" stroke-linejoin="round" stroke-linecap="round" />
<path d="M462.1,600.9 Q470.9,604.1 479.7,600.9" fill="none" stroke="#000" stroke-opacity="0.14" stroke-width="5.1" stroke-linejoin="round" stroke-linecap="round" />
<path d="M462.1,600.9 Q470.9,604.1 479.7,600.9" fill="none" stroke="#6a6a6a" stroke-width="2.25" stroke-linejoin="round" stroke-linecap="round" />
<path d="M462.1,603.9 Q470.9,607.1 479.7,603.9" fill="none" stroke="#000" stroke-opacity="0.14" stroke-width="3.06" stroke-linejoin="round" stroke-linecap="round" />
<path d="M462.1,603.9 Q470.9,607.1 479.7,603.9" fill="none" stroke="#979797" stroke-width="1.35" stroke-linejoin="round" stroke-linecap="round" />
<path d="M462.1,606.9 Q470.9,610.1 479.7,606.9" fill="none" stroke="#000" stroke-opacity="0.14" stroke-width="5.1" stroke-linejoin="round" stroke-linecap="round" />
<path d="M462.1,606.9 Q470.9,610.1 479.7,606.9" fill="none" stroke="#6a6a6a" stroke-width="2.25" stroke-linejoin="round" stroke-linecap="round" />
<path d="M462.1,609.9 Q470.9,613.1 479.7,609.9" fill="none" stroke="#000" stroke-opacity="0.14" stroke-width="3.06" stroke-linejoin="round" stroke-linecap="round" />
<path d="M462.1,609.9 Q470.9,613.1 479.7,609.9" fill="none" stroke="#a4a4a4" stroke-width="1.35" stroke-linejoin="round" stroke-linecap="round" />
<path d="M462.1,616.4 Q470.9,619.6 479.7,616.4" fill="none" stroke="#000" stroke-opacity="0.14" stroke-width="5.1" stroke-linejoin="round" stroke-linecap="round" />
<path d="M462.1,616.4 Q470.9,619.6 479.7,616.4" fill="none" stroke="#6a6a6a" stroke-width="2.25" stroke-linejoin="round" stroke-linecap="round" />
<path d="M462.1,619.9 Q470.9,623.1 479.7,619.9" fill="none" stroke="#000" stroke-opacity="0.14" stroke-width="3.06" stroke-linejoin="round" stroke-linecap="round" />
<path d="M462.1,619.9 Q470.9,623.1 479.7,619.9" fill="none" stroke="#979797" stroke-width="1.35" stroke-linejoin="round" stroke-linecap="round" />
<path d="M490.6,629.9 C490.6,631.7 488.57,633.43 484.95,634.71 C481.33,635.98 476.42,636.7 471.3,636.7 C466.18,636.7 461.27,635.98 457.65,634.71 C454.03,633.43 452,631.7 452,629.9 C452,628.1 454.03,626.37 457.65,625.09 C461.27,623.82 466.18,623.1 471.3,623.1 C476.42,623.1 481.33,623.82 484.95,625.09 C488.57,626.37 490.6,628.1 490.6,629.9Z" fill="#fff"/>
<path d="M490.6,629.9 C490.6,631.7 488.57,633.43 484.95,634.71 C481.33,635.98 476.42,636.7 471.3,636.7 C466.18,636.7 461.27,635.98 457.65,634.71 C454.03,633.43 452,631.7 452,629.9 C452,628.1 454.03,626.37 457.65,625.09 C461.27,623.82 466.18,623.1 471.3,623.1 C476.42,623.1 481.33,623.82 484.95,625.09 C488.57,626.37 490.6,628.1 490.6,629.9Z" fill="none" stroke="#000" stroke-opacity="0.14" stroke-width="5.44" stroke-linejoin="round" stroke-linecap="round" />
<path d="M490.6,629.9 C490.6,631.7 488.57,633.43 484.95,634.71 C481.33,635.98 476.42,636.7 471.3,636.7 C466.18,636.7 461.27,635.98 457.65,634.71 C454.03,633.43 452,631.7 452,629.9 C452,628.1 454.03,626.37 457.65,625.09 C461.27,623.82 466.18,623.1 471.3,623.1 C476.42,623.1 481.33,623.82 484.95,625.09 C488.57,626.37 490.6,628.1 490.6,629.9Z" fill="none" stroke="#6a6a6a" stroke-width="2.4" stroke-linejoin="round" stroke-linecap="round" />
<path d="M462.1,625 L462.1,631 Q470.9,635 479.7,631 L479.7,625" fill="none" stroke="#000" stroke-opacity="0.14" stroke-width="5.1" stroke-linejoin="round" stroke-linecap="round" />
<path d="M462.1,625 L462.1,631 Q470.9,635 479.7,631 L479.7,625" fill="none" stroke="#6a6a6a" stroke-width="2.25" stroke-linejoin="round" stroke-linecap="round" />
<path d="M452.1,632.5 C454.4,638 462.9,640 471.3,640 C479.9,640 488.4,638 490.5,632.5" fill="none" stroke="#000" stroke-opacity="0.14" stroke-width="5.1" stroke-linejoin="round" stroke-linecap="round" />
<path d="M452.1,632.5 C454.4,638 462.9,640 471.3,640 C479.9,640 488.4,638 490.5,632.5" fill="none" stroke="#6a6a6a" stroke-width="2.25" stroke-linejoin="round" stroke-linecap="round" />
<path d="M454.6,637 L455.1,644.5 C457.4,648.5 460.9,650.8 464.2,651.3 L479.3,651.3 C482.9,650.8 486.4,648.5 488.2,644.5 L488.2,637" fill="none" stroke="#000" stroke-opacity="0.14" stroke-width="5.44" stroke-linejoin="round" stroke-linecap="round" />
<path d="M454.6,637 L455.1,644.5 C457.4,648.5 460.9,650.8 464.2,651.3 L479.3,651.3 C482.9,650.8 486.4,648.5 488.2,644.5 L488.2,637" fill="none" stroke="#6a6a6a" stroke-width="2.4" stroke-linejoin="round" stroke-linecap="round" />
<line x1="464.2" y1="640" x2="464.2" y2="651.3" fill="none" stroke="#000" stroke-opacity="0.14" stroke-width="5.44" stroke-linejoin="round" stroke-linecap="round" />
<line x1="464.2" y1="640" x2="464.2" y2="651.3" fill="none" stroke="#6a6a6a" stroke-width="2.4" stroke-linejoin="round" stroke-linecap="round" />
<line x1="479.3" y1="640" x2="479.3" y2="651.3" fill="none" stroke="#000" stroke-opacity="0.14" stroke-width="5.44" stroke-linejoin="round" stroke-linecap="round" />
<line x1="479.3" y1="640" x2="479.3" y2="651.3" fill="none" stroke="#6a6a6a" stroke-width="2.4" stroke-linejoin="round" stroke-linecap="round" />
<path d="M455.1,642 L459.9,644.5 M487.9,642 L483.4,644.5" fill="none" stroke="#000" stroke-opacity="0.14" stroke-width="3.74" stroke-linejoin="round" stroke-linecap="round" />
<path d="M455.1,642 L459.9,644.5 M487.9,642 L483.4,644.5" fill="none" stroke="#8a8a8a" stroke-width="1.65" stroke-linejoin="round" stroke-linecap="round" />
<path d="M559.6,617.8 L559.6,657.3 M577.2,617.8 L577.2,657.3" fill="none" stroke="#000" stroke-opacity="0.14" stroke-width="5.44" stroke-linejoin="round" stroke-linecap="round" />
<path d="M559.6,617.8 L559.6,657.3 M577.2,617.8 L577.2,657.3" fill="none" stroke="#6a6a6a" stroke-width="2.4" stroke-linejoin="round" stroke-linecap="round" />
<path d="M559.6,617.8 C559.6,614.5 563.9,613.9 568.4,613.9 C572.9,613.9 577.2,614.5 577.2,617.8" fill="none" stroke="#000" stroke-opacity="0.14" stroke-width="5.78" stroke-linejoin="round" stroke-linecap="round" />
<path d="M559.6,617.8 C559.6,614.5 563.9,613.9 568.4,613.9 C572.9,613.9 577.2,614.5 577.2,617.8" fill="none" stroke="#6a6a6a" stroke-width="2.55" stroke-linejoin="round" stroke-linecap="round" />
<path d="M560.1,618.8 Q568.4,621.8 576.7,618.8" fill="none" stroke="#000" stroke-opacity="0.14" stroke-width="4.42" stroke-linejoin="round" stroke-linecap="round" />
<path d="M560.1,618.8 Q568.4,621.8 576.7,618.8" fill="none" stroke="#6a6a6a" stroke-width="1.95" stroke-linejoin="round" stroke-linecap="round" />
<path d="M559.6,622.2 Q568.4,625.4 577.2,622.2" fill="none" stroke="#000" stroke-opacity="0.14" stroke-width="5.1" stroke-linejoin="round" stroke-linecap="round" />
<path d="M559.6,622.2 Q568.4,625.4 577.2,622.2" fill="none" stroke="#6a6a6a" stroke-width="2.25" stroke-linejoin="round" stroke-linecap="round" />
<path d="M559.6,624.7 Q568.4,627.9 577.2,624.7" fill="none" stroke="#000" stroke-opacity="0.14" stroke-width="3.06" stroke-linejoin="round" stroke-linecap="round" />
<path d="M559.6,624.7 Q568.4,627.9 577.2,624.7" fill="none" stroke="#979797" stroke-width="1.35" stroke-linejoin="round" stroke-linecap="round" />
<path d="M559.6,627.7 Q568.4,630.9 577.2,627.7" fill="none" stroke="#000" stroke-opacity="0.14" stroke-width="5.1" stroke-linejoin="round" stroke-linecap="round" />
<path d="M559.6,627.7 Q568.4,630.9 577.2,627.7" fill="none" stroke="#6a6a6a" stroke-width="2.25" stroke-linejoin="round" stroke-linecap="round" />
<path d="M559.6,630.7 Q568.4,633.9 577.2,630.7" fill="none" stroke="#000" stroke-opacity="0.14" stroke-width="3.06" stroke-linejoin="round" stroke-linecap="round" />
<path d="M559.6,630.7 Q568.4,633.9 577.2,630.7" fill="none" stroke="#979797" stroke-width="1.35" stroke-linejoin="round" stroke-linecap="round" />
<path d="M559.6,633.7 Q568.4,636.9 577.2,633.7" fill="none" stroke="#000" stroke-opacity="0.14" stroke-width="5.1" stroke-linejoin="round" stroke-linecap="round" />
<path d="M559.6,633.7 Q568.4,636.9 577.2,633.7" fill="none" stroke="#6a6a6a" stroke-width="2.25" stroke-linejoin="round" stroke-linecap="round" />
<path d="M559.6,636.7 Q568.4,639.9 577.2,636.7" fill="none" stroke="#000" stroke-opacity="0.14" stroke-width="3.06" stroke-linejoin="round" stroke-linecap="round" />
<path d="M559.6,636.7 Q568.4,639.9 577.2,636.7" fill="none" stroke="#a4a4a4" stroke-width="1.35" stroke-linejoin="round" stroke-linecap="round" />
<path d="M559.6,643.2 Q568.4,646.4 577.2,643.2" fill="none" stroke="#000" stroke-opacity="0.14" stroke-width="5.1" stroke-linejoin="round" stroke-linecap="round" />
<path d="M559.6,643.2 Q568.4,646.4 577.2,643.2" fill="none" stroke="#6a6a6a" stroke-width="2.25" stroke-linejoin="round" stroke-linecap="round" />
<path d="M559.6,646.7 Q568.4,649.9 577.2,646.7" fill="none" stroke="#000" stroke-opacity="0.14" stroke-width="3.06" stroke-linejoin="round" stroke-linecap="round" />
<path d="M559.6,646.7 Q568.4,649.9 577.2,646.7" fill="none" stroke="#979797" stroke-width="1.35" stroke-linejoin="round" stroke-linecap="round" />
<path d="M588.1,656.7 C588.1,658.5 586.07,660.23 582.45,661.51 C578.83,662.78 573.92,663.5 568.8,663.5 C563.68,663.5 558.77,662.78 555.15,661.51 C551.53,660.23 549.5,658.5 549.5,656.7 C549.5,654.9 551.53,653.17 555.15,651.89 C558.77,650.62 563.68,649.9 568.8,649.9 C573.92,649.9 578.83,650.62 582.45,651.89 C586.07,653.17 588.1,654.9 588.1,656.7Z" fill="#fff"/>
<path d="M588.1,656.7 C588.1,658.5 586.07,660.23 582.45,661.51 C578.83,662.78 573.92,663.5 568.8,663.5 C563.68,663.5 558.77,662.78 555.15,661.51 C551.53,660.23 549.5,658.5 549.5,656.7 C549.5,654.9 551.53,653.17 555.15,651.89 C558.77,650.62 563.68,649.9 568.8,649.9 C573.92,649.9 578.83,650.62 582.45,651.89 C586.07,653.17 588.1,654.9 588.1,656.7Z" fill="none" stroke="#000" stroke-opacity="0.14" stroke-width="5.44" stroke-linejoin="round" stroke-linecap="round" />
<path d="M588.1,656.7 C588.1,658.5 586.07,660.23 582.45,661.51 C578.83,662.78 573.92,663.5 568.8,663.5 C563.68,663.5 558.77,662.78 555.15,661.51 C551.53,660.23 549.5,658.5 549.5,656.7 C549.5,654.9 551.53,653.17 555.15,651.89 C558.77,650.62 563.68,649.9 568.8,649.9 C573.92,649.9 578.83,650.62 582.45,651.89 C586.07,653.17 588.1,654.9 588.1,656.7Z" fill="none" stroke="#6a6a6a" stroke-width="2.4" stroke-linejoin="round" stroke-linecap="round" />
<path d="M559.6,651.8 L559.6,657.8 Q568.4,661.8 577.2,657.8 L577.2,651.8" fill="none" stroke="#000" stroke-opacity="0.14" stroke-width="5.1" stroke-linejoin="round" stroke-linecap="round" />
<path d="M559.6,651.8 L559.6,657.8 Q568.4,661.8 577.2,657.8 L577.2,651.8" fill="none" stroke="#6a6a6a" stroke-width="2.25" stroke-linejoin="round" stroke-linecap="round" />
<path d="M549.6,659.3 C551.9,664.8 560.4,666.8 568.8,666.8 C577.4,666.8 585.9,664.8 588,659.3" fill="none" stroke="#000" stroke-opacity="0.14" stroke-width="5.1" stroke-linejoin="round" stroke-linecap="round" />
<path d="M549.6,659.3 C551.9,664.8 560.4,666.8 568.8,666.8 C577.4,666.8 585.9,664.8 588,659.3" fill="none" stroke="#6a6a6a" stroke-width="2.25" stroke-linejoin="round" stroke-linecap="round" />
<path d="M552.1,663.8 L552.6,671.3 C554.9,675.3 558.4,677.6 561.7,678.1 L576.8,678.1 C580.4,677.6 583.9,675.3 585.7,671.3 L585.7,663.8" fill="none" stroke="#000" stroke-opacity="0.14" stroke-width="5.44" stroke-linejoin="round" stroke-linecap="round" />
<path d="M552.1,663.8 L552.6,671.3 C554.9,675.3 558.4,677.6 561.7,678.1 L576.8,678.1 C580.4,677.6 583.9,675.3 585.7,671.3 L585.7,663.8" fill="none" stroke="#6a6a6a" stroke-width="2.4" stroke-linejoin="round" stroke-linecap="round" />
<line x1="561.7" y1="666.8" x2="561.7" y2="678.1" fill="none" stroke="#000" stroke-opacity="0.14" stroke-width="5.44" stroke-linejoin="round" stroke-linecap="round" />
<line x1="561.7" y1="666.8" x2="561.7" y2="678.1" fill="none" stroke="#6a6a6a" stroke-width="2.4" stroke-linejoin="round" stroke-linecap="round" />
<line x1="576.8" y1="666.8" x2="576.8" y2="678.1" fill="none" stroke="#000" stroke-opacity="0.14" stroke-width="5.44" stroke-linejoin="round" stroke-linecap="round" />
<line x1="576.8" y1="666.8" x2="576.8" y2="678.1" fill="none" stroke="#6a6a6a" stroke-width="2.4" stroke-linejoin="round" stroke-linecap="round" />
<path d="M552.6,668.8 L557.4,671.3 M585.4,668.8 L580.9,671.3" fill="none" stroke="#000" stroke-opacity="0.14" stroke-width="3.74" stroke-linejoin="round" stroke-linecap="round" />
<path d="M552.6,668.8 L557.4,671.3 M585.4,668.8 L580.9,671.3" fill="none" stroke="#8a8a8a" stroke-width="1.65" stroke-linejoin="round" stroke-linecap="round" />
<path d="M630.2,556.8 L630.2,596.3 M647.8,556.8 L647.8,596.3" fill="none" stroke="#000" stroke-opacity="0.14" stroke-width="5.44" stroke-linejoin="round" stroke-linecap="round" />
<path d="M630.2,556.8 L630.2,596.3 M647.8,556.8 L647.8,596.3" fill="none" stroke="#6a6a6a" stroke-width="2.4" stroke-linejoin="round" stroke-linecap="round" />
<path d="M630.2,556.8 C630.2,553.5 634.5,552.9 639,552.9 C643.5,552.9 647.8,553.5 647.8,556.8" fill="none" stroke="#000" stroke-opacity="0.14" stroke-width="5.78" stroke-linejoin="round" stroke-linecap="round" />
<path d="M630.2,556.8 C630.2,553.5 634.5,552.9 639,552.9 C643.5,552.9 647.8,553.5 647.8,556.8" fill="none" stroke="#6a6a6a" stroke-width="2.55" stroke-linejoin="round" stroke-linecap="round" />
<path d="M630.7,557.8 Q639,560.8 647.3,557.8" fill="none" stroke="#000" stroke-opacity="0.14" stroke-width="4.42" stroke-linejoin="round" stroke-linecap="round" />
<path d="M630.7,557.8 Q639,560.8 647.3,557.8" fill="none" stroke="#6a6a6a" stroke-width="1.95" stroke-linejoin="round" stroke-linecap="round" />
<path d="M630.2,561.2 Q639,564.4 647.8,561.2" fill="none" stroke="#000" stroke-opacity="0.14" stroke-width="5.1" stroke-linejoin="round" stroke-linecap="round" />
<path d="M630.2,561.2 Q639,564.4 647.8,561.2" fill="none" stroke="#6a6a6a" stroke-width="2.25" stroke-linejoin="round" stroke-linecap="round" />
<path d="M630.2,563.7 Q639,566.9 647.8,563.7" fill="none" stroke="#000" stroke-opacity="0.14" stroke-width="3.06" stroke-linejoin="round" stroke-linecap="round" />
<path d="M630.2,563.7 Q639,566.9 647.8,563.7" fill="none" stroke="#979797" stroke-width="1.35" stroke-linejoin="round" stroke-linecap="round" />
<path d="M630.2,566.7 Q639,569.9 647.8,566.7" fill="none" stroke="#000" stroke-opacity="0.14" stroke-width="5.1" stroke-linejoin="round" stroke-linecap="round" />
<path d="M630.2,566.7 Q639,569.9 647.8,566.7" fill="none" stroke="#6a6a6a" stroke-width="2.25" stroke-linejoin="round" stroke-linecap="round" />
<path d="M630.2,569.7 Q639,572.9 647.8,569.7" fill="none" stroke="#000" stroke-opacity="0.14" stroke-width="3.06" stroke-linejoin="round" stroke-linecap="round" />
<path d="M630.2,569.7 Q639,572.9 647.8,569.7" fill="none" stroke="#979797" stroke-width="1.35" stroke-linejoin="round" stroke-linecap="round" />
<path d="M630.2,572.7 Q639,575.9 647.8,572.7" fill="none" stroke="#000" stroke-opacity="0.14" stroke-width="5.1" stroke-linejoin="round" stroke-linecap="round" />
<path d="M630.2,572.7 Q639,575.9 647.8,572.7" fill="none" stroke="#6a6a6a" stroke-width="2.25" stroke-linejoin="round" stroke-linecap="round" />
<path d="M630.2,575.7 Q639,578.9 647.8,575.7" fill="none" stroke="#000" stroke-opacity="0.14" stroke-width="3.06" stroke-linejoin="round" stroke-linecap="round" />
<path d="M630.2,575.7 Q639,578.9 647.8,575.7" fill="none" stroke="#a4a4a4" stroke-width="1.35" stroke-linejoin="round" stroke-linecap="round" />
<path d="M630.2,582.2 Q639,585.4 647.8,582.2" fill="none" stroke="#000" stroke-opacity="0.14" stroke-width="5.1" stroke-linejoin="round" stroke-linecap="round" />
<path d="M630.2,582.2 Q639,585.4 647.8,582.2" fill="none" stroke="#6a6a6a" stroke-width="2.25" stroke-linejoin="round" stroke-linecap="round" />
<path d="M630.2,585.7 Q639,588.9 647.8,585.7" fill="none" stroke="#000" stroke-opacity="0.14" stroke-width="3.06" stroke-linejoin="round" stroke-linecap="round" />
<path d="M630.2,585.7 Q639,588.9 647.8,585.7" fill="none" stroke="#979797" stroke-width="1.35" stroke-linejoin="round" stroke-linecap="round" />
<path d="M658.7,595.7 C658.7,597.5 656.67,599.23 653.05,600.51 C649.43,601.78 644.52,602.5 639.4,602.5 C634.28,602.5 629.37,601.78 625.75,600.51 C622.13,599.23 620.1,597.5 620.1,595.7 C620.1,593.9 622.13,592.17 625.75,590.89 C629.37,589.62 634.28,588.9 639.4,588.9 C644.52,588.9 649.43,589.62 653.05,590.89 C656.67,592.17 658.7,593.9 658.7,595.7Z" fill="#fff"/>
<path d="M658.7,595.7 C658.7,597.5 656.67,599.23 653.05,600.51 C649.43,601.78 644.52,602.5 639.4,602.5 C634.28,602.5 629.37,601.78 625.75,600.51 C622.13,599.23 620.1,597.5 620.1,595.7 C620.1,593.9 622.13,592.17 625.75,590.89 C629.37,589.62 634.28,588.9 639.4,588.9 C644.52,588.9 649.43,589.62 653.05,590.89 C656.67,592.17 658.7,593.9 658.7,595.7Z" fill="none" stroke="#000" stroke-opacity="0.14" stroke-width="5.44" stroke-linejoin="round" stroke-linecap="round" />
<path d="M658.7,595.7 C658.7,597.5 656.67,599.23 653.05,600.51 C649.43,601.78 644.52,602.5 639.4,602.5 C634.28,602.5 629.37,601.78 625.75,600.51 C622.13,599.23 620.1,597.5 620.1,595.7 C620.1,593.9 622.13,592.17 625.75,590.89 C629.37,589.62 634.28,588.9 639.4,588.9 C644.52,588.9 649.43,589.62 653.05,590.89 C656.67,592.17 658.7,593.9 658.7,595.7Z" fill="none" stroke="#6a6a6a" stroke-width="2.4" stroke-linejoin="round" stroke-linecap="round" />
<path d="M630.2,590.8 L630.2,596.8 Q639,600.8 647.8,596.8 L647.8,590.8" fill="none" stroke="#000" stroke-opacity="0.14" stroke-width="5.1" stroke-linejoin="round" stroke-linecap="round" />
<path d="M630.2,590.8 L630.2,596.8 Q639,600.8 647.8,596.8 L647.8,590.8" fill="none" stroke="#6a6a6a" stroke-width="2.25" stroke-linejoin="round" stroke-linecap="round" />
<path d="M620.2,598.3 C622.5,603.8 631,605.8 639.4,605.8 C648,605.8 656.5,603.8 658.6,598.3" fill="none" stroke="#000" stroke-opacity="0.14" stroke-width="5.1" stroke-linejoin="round" stroke-linecap="round" />
<path d="M620.2,598.3 C622.5,603.8 631,605.8 639.4,605.8 C648,605.8 656.5,603.8 658.6,598.3" fill="none" stroke="#6a6a6a" stroke-width="2.25" stroke-linejoin="round" stroke-linecap="round" />
<path d="M622.7,602.8 L623.2,610.3 C625.5,614.3 629,616.6 632.3,617.1 L647.4,617.1 C651,616.6 654.5,614.3 656.3,610.3 L656.3,602.8" fill="none" stroke="#000" stroke-opacity="0.14" stroke-width="5.44" stroke-linejoin="round" stroke-linecap="round" />
<path d="M622.7,602.8 L623.2,610.3 C625.5,614.3 629,616.6 632.3,617.1 L647.4,617.1 C651,616.6 654.5,614.3 656.3,610.3 L656.3,602.8" fill="none" stroke="#6a6a6a" stroke-width="2.4" stroke-linejoin="round" stroke-linecap="round" />
<line x1="632.3" y1="605.8" x2="632.3" y2="617.1" fill="none" stroke="#000" stroke-opacity="0.14" stroke-width="5.44" stroke-linejoin="round" stroke-linecap="round" />
<line x1="632.3" y1="605.8" x2="632.3" y2="617.1" fill="none" stroke="#6a6a6a" stroke-width="2.4" stroke-linejoin="round" stroke-linecap="round" />
<line x1="647.4" y1="605.8" x2="647.4" y2="617.1" fill="none" stroke="#000" stroke-opacity="0.14" stroke-width="5.44" stroke-linejoin="round" stroke-linecap="round" />
<line x1="647.4" y1="605.8" x2="647.4" y2="617.1" fill="none" stroke="#6a6a6a" stroke-width="2.4" stroke-linejoin="round" stroke-linecap="round" />
<path d="M623.2,607.8 L628,610.3 M656,607.8 L651.5,610.3" fill="none" stroke="#000" stroke-opacity="0.14" stroke-width="3.74" stroke-linejoin="round" stroke-linecap="round" />
<path d="M623.2,607.8 L628,610.3 M656,607.8 L651.5,610.3" fill="none" stroke="#8a8a8a" stroke-width="1.65" stroke-linejoin="round" stroke-linecap="round" />
<path d="M731.2,550 L731.2,589.5 M748.8,550 L748.8,589.5" fill="none" stroke="#000" stroke-opacity="0.14" stroke-width="5.44" stroke-linejoin="round" stroke-linecap="round" />
<path d="M731.2,550 L731.2,589.5 M748.8,550 L748.8,589.5" fill="none" stroke="#6a6a6a" stroke-width="2.4" stroke-linejoin="round" stroke-linecap="round" />
<path d="M731.2,550 C731.2,546.7 735.5,546.1 740,546.1 C744.5,546.1 748.8,546.7 748.8,550" fill="none" stroke="#000" stroke-opacity="0.14" stroke-width="5.78" stroke-linejoin="round" stroke-linecap="round" />
<path d="M731.2,550 C731.2,546.7 735.5,546.1 740,546.1 C744.5,546.1 748.8,546.7 748.8,550" fill="none" stroke="#6a6a6a" stroke-width="2.55" stroke-linejoin="round" stroke-linecap="round" />
<path d="M731.7,551 Q740,554 748.3,551" fill="none" stroke="#000" stroke-opacity="0.14" stroke-width="4.42" stroke-linejoin="round" stroke-linecap="round" />
<path d="M731.7,551 Q740,554 748.3,551" fill="none" stroke="#6a6a6a" stroke-width="1.95" stroke-linejoin="round" stroke-linecap="round" />
<path d="M731.2,554.4 Q740,557.6 748.8,554.4" fill="none" stroke="#000" stroke-opacity="0.14" stroke-width="5.1" stroke-linejoin="round" stroke-linecap="round" />
<path d="M731.2,554.4 Q740,557.6 748.8,554.4" fill="none" stroke="#6a6a6a" stroke-width="2.25" stroke-linejoin="round" stroke-linecap="round" />
<path d="M731.2,556.9 Q740,560.1 748.8,556.9" fill="none" stroke="#000" stroke-opacity="0.14" stroke-width="3.06" stroke-linejoin="round" stroke-linecap="round" />
<path d="M731.2,556.9 Q740,560.1 748.8,556.9" fill="none" stroke="#979797" stroke-width="1.35" stroke-linejoin="round" stroke-linecap="round" />
<path d="M731.2,559.9 Q740,563.1 748.8,559.9" fill="none" stroke="#000" stroke-opacity="0.14" stroke-width="5.1" stroke-linejoin="round" stroke-linecap="round" />
<path d="M731.2,559.9 Q740,563.1 748.8,559.9" fill="none" stroke="#6a6a6a" stroke-width="2.25" stroke-linejoin="round" stroke-linecap="round" />
<path d="M731.2,562.9 Q740,566.1 748.8,562.9" fill="none" stroke="#000" stroke-opacity="0.14" stroke-width="3.06" stroke-linejoin="round" stroke-linecap="round" />
<path d="M731.2,562.9 Q740,566.1 748.8,562.9" fill="none" stroke="#979797" stroke-width="1.35" stroke-linejoin="round" stroke-linecap="round" />
<path d="M731.2,565.9 Q740,569.1 748.8,565.9" fill="none" stroke="#000" stroke-opacity="0.14" stroke-width="5.1" stroke-linejoin="round" stroke-linecap="round" />
<path d="M731.2,565.9 Q740,569.1 748.8,565.9" fill="none" stroke="#6a6a6a" stroke-width="2.25" stroke-linejoin="round" stroke-linecap="round" />
<path d="M731.2,568.9 Q740,572.1 748.8,568.9" fill="none" stroke="#000" stroke-opacity="0.14" stroke-width="3.06" stroke-linejoin="round" stroke-linecap="round" />
<path d="M731.2,568.9 Q740,572.1 748.8,568.9" fill="none" stroke="#a4a4a4" stroke-width="1.35" stroke-linejoin="round" stroke-linecap="round" />
<path d="M731.2,575.4 Q740,578.6 748.8,575.4" fill="none" stroke="#000" stroke-opacity="0.14" stroke-width="5.1" stroke-linejoin="round" stroke-linecap="round" />
<path d="M731.2,575.4 Q740,578.6 748.8,575.4" fill="none" stroke="#6a6a6a" stroke-width="2.25" stroke-linejoin="round" stroke-linecap="round" />
<path d="M731.2,578.9 Q740,582.1 748.8,578.9" fill="none" stroke="#000" stroke-opacity="0.14" stroke-width="3.06" stroke-linejoin="round" stroke-linecap="round" />
<path d="M731.2,578.9 Q740,582.1 748.8,578.9" fill="none" stroke="#979797" stroke-width="1.35" stroke-linejoin="round" stroke-linecap="round" />
<path d="M759.7,588.9 C759.7,590.7 757.67,592.43 754.05,593.71 C750.43,594.98 745.52,595.7 740.4,595.7 C735.28,595.7 730.37,594.98 726.75,593.71 C723.13,592.43 721.1,590.7 721.1,588.9 C721.1,587.1 723.13,585.37 726.75,584.09 C730.37,582.82 735.28,582.1 740.4,582.1 C745.52,582.1 750.43,582.82 754.05,584.09 C757.67,585.37 759.7,587.1 759.7,588.9Z" fill="#fff"/>
<path d="M759.7,588.9 C759.7,590.7 757.67,592.43 754.05,593.71 C750.43,594.98 745.52,595.7 740.4,595.7 C735.28,595.7 730.37,594.98 726.75,593.71 C723.13,592.43 721.1,590.7 721.1,588.9 C721.1,587.1 723.13,585.37 726.75,584.09 C730.37,582.82 735.28,582.1 740.4,582.1 C745.52,582.1 750.43,582.82 754.05,584.09 C757.67,585.37 759.7,587.1 759.7,588.9Z" fill="none" stroke="#000" stroke-opacity="0.14" stroke-width="5.44" stroke-linejoin="round" stroke-linecap="round" />
<path d="M759.7,588.9 C759.7,590.7 757.67,592.43 754.05,593.71 C750.43,594.98 745.52,595.7 740.4,595.7 C735.28,595.7 730.37,594.98 726.75,593.71 C723.13,592.43 721.1,590.7 721.1,588.9 C721.1,587.1 723.13,585.37 726.75,584.09 C730.37,582.82 735.28,582.1 740.4,582.1 C745.52,582.1 750.43,582.82 754.05,584.09 C757.67,585.37 759.7,587.1 759.7,588.9Z" fill="none" stroke="#6a6a6a" stroke-width="2.4" stroke-linejoin="round" stroke-linecap="round" />
<path d="M731.2,584 L731.2,590 Q740,594 748.8,590 L748.8,584" fill="none" stroke="#000" stroke-opacity="0.14" stroke-width="5.1" stroke-linejoin="round" stroke-linecap="round" />
<path d="M731.2,584 L731.2,590 Q740,594 748.8,590 L748.8,584" fill="none" stroke="#6a6a6a" stroke-width="2.25" stroke-linejoin="round" stroke-linecap="round" />
<path d="M721.2,591.5 C723.5,597 732,599 740.4,599 C749,599 757.5,597 759.6,591.5" fill="none" stroke="#000" stroke-opacity="0.14" stroke-width="5.1" stroke-linejoin="round" stroke-linecap="round" />
<path d="M721.2,591.5 C723.5,597 732,599 740.4,599 C749,599 757.5,597 759.6,591.5" fill="none" stroke="#6a6a6a" stroke-width="2.25" stroke-linejoin="round" stroke-linecap="round" />
<path d="M723.7,596 L724.2,603.5 C726.5,607.5 730,609.8 733.3,610.3 L748.4,610.3 C752,609.8 755.5,607.5 757.3,603.5 L757.3,596" fill="none" stroke="#000" stroke-opacity="0.14" stroke-width="5.44" stroke-linejoin="round" stroke-linecap="round" />
<path d="M723.7,596 L724.2,603.5 C726.5,607.5 730,609.8 733.3,610.3 L748.4,610.3 C752,609.8 755.5,607.5 757.3,603.5 L757.3,596" fill="none" stroke="#6a6a6a" stroke-width="2.4" stroke-linejoin="round" stroke-linecap="round" />
<line x1="733.3" y1="599" x2="733.3" y2="610.3" fill="none" stroke="#000" stroke-opacity="0.14" stroke-width="5.44" stroke-linejoin="round" stroke-linecap="round" />
<line x1="733.3" y1="599" x2="733.3" y2="610.3" fill="none" stroke="#6a6a6a" stroke-width="2.4" stroke-linejoin="round" stroke-linecap="round" />
<line x1="748.4" y1="599" x2="748.4" y2="610.3" fill="none" stroke="#000" stroke-opacity="0.14" stroke-width="5.44" stroke-linejoin="round" stroke-linecap="round" />
<line x1="748.4" y1="599" x2="748.4" y2="610.3" fill="none" stroke="#6a6a6a" stroke-width="2.4" stroke-linejoin="round" stroke-linecap="round" />
<path d="M724.2,601 L729,603.5 M757,601 L752.5,603.5" fill="none" stroke="#000" stroke-opacity="0.14" stroke-width="3.74" stroke-linejoin="round" stroke-linecap="round" />
<path d="M724.2,601 L729,603.5 M757,601 L752.5,603.5" fill="none" stroke="#8a8a8a" stroke-width="1.65" stroke-linejoin="round" stroke-linecap="round" />
<path d="M40.3,416.4 L88.9,433.5 L148.4,403.3 L148.4,350 C148.4,341.81 146.06,334.85 141.79,330.3 C137.51,325.75 131.55,323.87 124.9,324.99 L84.1,314.1 C83,313.87 79.45,312.83 77.5,312.7 C75.55,312.57 74.1,312.87 72.4,313.3 C70.7,313.73 69.37,314.42 67.3,315.3 C65.23,316.18 62.28,317.22 60,318.6 C57.72,319.98 55.85,321.37 53.6,323.6 C51.35,325.83 48.38,328.93 46.5,332 C44.62,335.07 43.3,338.83 42.3,342 C41.3,345.17 40.83,348.33 40.5,351 C40.17,353.67 40.33,355.67 40.3,358 C40.27,360.33 40.3,363.83 40.3,365 Z" fill="#fff"/>
<path d="M40.3,416.4 L88.9,433.5 L148.4,403.3 L148.4,350 C148.4,341.81 146.06,334.85 141.79,330.3 C137.51,325.75 131.55,323.87 124.9,324.99 L84.1,314.1 C83,313.87 79.45,312.83 77.5,312.7 C75.55,312.57 74.1,312.87 72.4,313.3 C70.7,313.73 69.37,314.42 67.3,315.3 C65.23,316.18 62.28,317.22 60,318.6 C57.72,319.98 55.85,321.37 53.6,323.6 C51.35,325.83 48.38,328.93 46.5,332 C44.62,335.07 43.3,338.83 42.3,342 C41.3,345.17 40.83,348.33 40.5,351 C40.17,353.67 40.33,355.67 40.3,358 C40.27,360.33 40.3,363.83 40.3,365 Z" fill="none" stroke="#000" stroke-opacity="0.14" stroke-width="5.1" stroke-linejoin="round" stroke-linecap="round" />
<path d="M40.3,416.4 L88.9,433.5 L148.4,403.3 L148.4,350 C148.4,341.81 146.06,334.85 141.79,330.3 C137.51,325.75 131.55,323.87 124.9,324.99 L84.1,314.1 C83,313.87 79.45,312.83 77.5,312.7 C75.55,312.57 74.1,312.87 72.4,313.3 C70.7,313.73 69.37,314.42 67.3,315.3 C65.23,316.18 62.28,317.22 60,318.6 C57.72,319.98 55.85,321.37 53.6,323.6 C51.35,325.83 48.38,328.93 46.5,332 C44.62,335.07 43.3,338.83 42.3,342 C41.3,345.17 40.83,348.33 40.5,351 C40.17,353.67 40.33,355.67 40.3,358 C40.27,360.33 40.3,363.83 40.3,365 Z" fill="none" stroke="#6a6a6a" stroke-width="2.25" stroke-linejoin="round" stroke-linecap="round" />
<path d="M124.9,324.99 C119.13,325.96 113.14,329.14 107.68,334.11 C102.22,339.09 97.54,345.64 94.25,352.92 C90.96,360.21 89.2,367.89 89.2,375 L88.9,433.5" fill="none" stroke="#000" stroke-opacity="0.14" stroke-width="5.1" stroke-linejoin="round" stroke-linecap="round" />
<path d="M124.9,324.99 C119.13,325.96 113.14,329.14 107.68,334.11 C102.22,339.09 97.54,345.64 94.25,352.92 C90.96,360.21 89.2,367.89 89.2,375 L88.9,433.5" fill="none" stroke="#6a6a6a" stroke-width="2.25" stroke-linejoin="round" stroke-linecap="round" />
<path d="M136.4,354.14 C136.4,349.11 134.55,345.07 131.26,342.91 C127.97,340.75 123.5,340.63 118.85,342.6 C114.2,344.57 109.73,348.45 106.44,353.39 C103.15,358.33 101.3,363.93 101.3,368.96 C101.3,373.99 103.15,378.03 106.44,380.19 C109.73,382.35 114.2,382.47 118.85,380.5 C123.5,378.53 127.97,374.65 131.26,369.71 C134.55,364.77 136.4,359.17 136.4,354.14Z" fill="none" stroke="#000" stroke-opacity="0.14" stroke-width="5.1" stroke-linejoin="round" stroke-linecap="round" />
<path d="M136.4,354.14 C136.4,349.11 134.55,345.07 131.26,342.91 C127.97,340.75 123.5,340.63 118.85,342.6 C114.2,344.57 109.73,348.45 106.44,353.39 C103.15,358.33 101.3,363.93 101.3,368.96 C101.3,373.99 103.15,378.03 106.44,380.19 C109.73,382.35 114.2,382.47 118.85,380.5 C123.5,378.53 127.97,374.65 131.26,369.71 C134.55,364.77 136.4,359.17 136.4,354.14Z" fill="none" stroke="#6a6a6a" stroke-width="2.25" stroke-linejoin="round" stroke-linecap="round" />
<path d="M273.2,305.4 L319.9,322.5 L379.4,292.3 L379.4,239 C379.4,230.81 377.06,223.85 372.79,219.3 C368.51,214.75 362.55,212.87 355.9,213.99 L315.1,203.1 C314,202.87 310.42,201.83 308.5,201.7 C306.58,201.57 305.23,201.87 303.59,202.3 C301.95,202.73 300.67,203.42 298.68,204.3 C296.69,205.18 293.85,206.22 291.67,207.6 C289.48,208.98 287.69,210.37 285.55,212.6 C283.41,214.83 280.6,217.93 278.83,221 C277.06,224.07 275.82,227.83 274.92,231 C274.01,234.17 273.69,237.33 273.4,240 C273.11,242.67 273.23,244.67 273.2,247 C273.17,249.33 273.2,252.83 273.2,254 Z" fill="#fff"/>
<path d="M273.2,305.4 L319.9,322.5 L379.4,292.3 L379.4,239 C379.4,230.81 377.06,223.85 372.79,219.3 C368.51,214.75 362.55,212.87 355.9,213.99 L315.1,203.1 C314,202.87 310.42,201.83 308.5,201.7 C306.58,201.57 305.23,201.87 303.59,202.3 C301.95,202.73 300.67,203.42 298.68,204.3 C296.69,205.18 293.85,206.22 291.67,207.6 C289.48,208.98 287.69,210.37 285.55,212.6 C283.41,214.83 280.6,217.93 278.83,221 C277.06,224.07 275.82,227.83 274.92,231 C274.01,234.17 273.69,237.33 273.4,240 C273.11,242.67 273.23,244.67 273.2,247 C273.17,249.33 273.2,252.83 273.2,254 Z" fill="none" stroke="#000" stroke-opacity="0.14" stroke-width="5.1" stroke-linejoin="round" stroke-linecap="round" />
<path d="M273.2,305.4 L319.9,322.5 L379.4,292.3 L379.4,239 C379.4,230.81 377.06,223.85 372.79,219.3 C368.51,214.75 362.55,212.87 355.9,213.99 L315.1,203.1 C314,202.87 310.42,201.83 308.5,201.7 C306.58,201.57 305.23,201.87 303.59,202.3 C301.95,202.73 300.67,203.42 298.68,204.3 C296.69,205.18 293.85,206.22 291.67,207.6 C289.48,208.98 287.69,210.37 285.55,212.6 C283.41,214.83 280.6,217.93 278.83,221 C277.06,224.07 275.82,227.83 274.92,231 C274.01,234.17 273.69,237.33 273.4,240 C273.11,242.67 273.23,244.67 273.2,247 C273.17,249.33 273.2,252.83 273.2,254 Z" fill="none" stroke="#6a6a6a" stroke-width="2.25" stroke-linejoin="round" stroke-linecap="round" />
<path d="M355.9,213.99 C350.13,214.96 344.14,218.14 338.68,223.11 C333.22,228.09 328.54,234.64 325.25,241.92 C321.96,249.21 320.2,256.89 320.2,264 L319.9,322.5" fill="none" stroke="#000" stroke-opacity="0.14" stroke-width="5.1" stroke-linejoin="round" stroke-linecap="round" />
<path d="M355.9,213.99 C350.13,214.96 344.14,218.14 338.68,223.11 C333.22,228.09 328.54,234.64 325.25,241.92 C321.96,249.21 320.2,256.89 320.2,264 L319.9,322.5" fill="none" stroke="#6a6a6a" stroke-width="2.25" stroke-linejoin="round" stroke-linecap="round" />
<path d="M367.4,243.14 C367.4,238.11 365.55,234.07 362.26,231.91 C358.97,229.75 354.5,229.63 349.85,231.6 C345.2,233.57 340.73,237.45 337.44,242.39 C334.15,247.33 332.3,252.93 332.3,257.96 C332.3,262.99 334.15,267.03 337.44,269.19 C340.73,271.35 345.2,271.47 349.85,269.5 C354.5,267.53 358.97,263.65 362.26,258.71 C365.55,253.77 367.4,248.17 367.4,243.14Z" fill="none" stroke="#000" stroke-opacity="0.14" stroke-width="5.1" stroke-linejoin="round" stroke-linecap="round" />
<path d="M367.4,243.14 C367.4,238.11 365.55,234.07 362.26,231.91 C358.97,229.75 354.5,229.63 349.85,231.6 C345.2,233.57 340.73,237.45 337.44,242.39 C334.15,247.33 332.3,252.93 332.3,257.96 C332.3,262.99 334.15,267.03 337.44,269.19 C340.73,271.35 345.2,271.47 349.85,269.5 C354.5,267.53 358.97,263.65 362.26,258.71 C365.55,253.77 367.4,248.17 367.4,243.14Z" fill="none" stroke="#6a6a6a" stroke-width="2.25" stroke-linejoin="round" stroke-linecap="round" />
<path d="M973.5,500.2 L1021.9,517.3 L1081.4,487.1 L1081.4,433.8 C1081.4,425.61 1079.06,418.65 1074.79,414.1 C1070.51,409.55 1064.55,407.67 1057.9,408.79 L1017.1,397.9 C1016,397.67 1012.45,396.63 1010.5,396.5 C1008.55,396.37 1007.11,396.67 1005.42,397.1 C1003.73,397.53 1002.4,398.22 1000.34,399.1 C998.28,399.98 995.34,401.02 993.07,402.4 C990.8,403.78 988.94,405.17 986.7,407.4 C984.46,409.63 981.51,412.73 979.64,415.8 C977.77,418.87 976.46,422.63 975.47,425.8 C974.48,428.97 974.03,432.13 973.7,434.8 C973.37,437.47 973.53,439.47 973.5,441.8 C973.47,444.13 973.5,447.63 973.5,448.8 Z" fill="#fff"/>
<path d="M973.5,500.2 L1021.9,517.3 L1081.4,487.1 L1081.4,433.8 C1081.4,425.61 1079.06,418.65 1074.79,414.1 C1070.51,409.55 1064.55,407.67 1057.9,408.79 L1017.1,397.9 C1016,397.67 1012.45,396.63 1010.5,396.5 C1008.55,396.37 1007.11,396.67 1005.42,397.1 C1003.73,397.53 1002.4,398.22 1000.34,399.1 C998.28,399.98 995.34,401.02 993.07,402.4 C990.8,403.78 988.94,405.17 986.7,407.4 C984.46,409.63 981.51,412.73 979.64,415.8 C977.77,418.87 976.46,422.63 975.47,425.8 C974.48,428.97 974.03,432.13 973.7,434.8 C973.37,437.47 973.53,439.47 973.5,441.8 C973.47,444.13 973.5,447.63 973.5,448.8 Z" fill="none" stroke="#000" stroke-opacity="0.14" stroke-width="5.1" stroke-linejoin="round" stroke-linecap="round" />
<path d="M973.5,500.2 L1021.9,517.3 L1081.4,487.1 L1081.4,433.8 C1081.4,425.61 1079.06,418.65 1074.79,414.1 C1070.51,409.55 1064.55,407.67 1057.9,408.79 L1017.1,397.9 C1016,397.67 1012.45,396.63 1010.5,396.5 C1008.55,396.37 1007.11,396.67 1005.42,397.1 C1003.73,397.53 1002.4,398.22 1000.34,399.1 C998.28,399.98 995.34,401.02 993.07,402.4 C990.8,403.78 988.94,405.17 986.7,407.4 C984.46,409.63 981.51,412.73 979.64,415.8 C977.77,418.87 976.46,422.63 975.47,425.8 C974.48,428.97 974.03,432.13 973.7,434.8 C973.37,437.47 973.53,439.47 973.5,441.8 C973.47,444.13 973.5,447.63 973.5,448.8 Z" fill="none" stroke="#6a6a6a" stroke-width="2.25" stroke-linejoin="round" stroke-linecap="round" />
<path d="M1057.9,408.79 C1052.13,409.76 1046.14,412.94 1040.68,417.91 C1035.22,422.89 1030.54,429.44 1027.25,436.72 C1023.96,444.01 1022.2,451.69 1022.2,458.8 L1021.9,517.3" fill="none" stroke="#000" stroke-opacity="0.14" stroke-width="5.1" stroke-linejoin="round" stroke-linecap="round" />
<path d="M1057.9,408.79 C1052.13,409.76 1046.14,412.94 1040.68,417.91 C1035.22,422.89 1030.54,429.44 1027.25,436.72 C1023.96,444.01 1022.2,451.69 1022.2,458.8 L1021.9,517.3" fill="none" stroke="#6a6a6a" stroke-width="2.25" stroke-linejoin="round" stroke-linecap="round" />
<path d="M785.4,612.1 L831.4,630 L890.9,599.8 L890.9,546.5 C890.9,538.31 888.56,531.35 884.29,526.8 C880.01,522.25 874.05,520.37 867.4,521.49 L826.6,510.6 C825.5,510.37 821.91,509.33 820,509.2 C818.09,509.07 816.77,509.37 815.16,509.8 C813.55,510.23 812.28,510.92 810.32,511.8 C808.36,512.68 805.56,513.72 803.41,515.1 C801.26,516.48 799.5,517.87 797.4,520.1 C795.3,522.33 792.55,525.43 790.82,528.5 C789.09,531.57 787.88,535.33 787.01,538.5 C786.14,541.67 785.87,544.83 785.6,547.5 C785.33,550.17 785.43,552.17 785.4,554.5 C785.37,556.83 785.4,560.33 785.4,561.5 Z" fill="#fff"/>
<path d="M785.4,612.1 L831.4,630 L890.9,599.8 L890.9,546.5 C890.9,538.31 888.56,531.35 884.29,526.8 C880.01,522.25 874.05,520.37 867.4,521.49 L826.6,510.6 C825.5,510.37 821.91,509.33 820,509.2 C818.09,509.07 816.77,509.37 815.16,509.8 C813.55,510.23 812.28,510.92 810.32,511.8 C808.36,512.68 805.56,513.72 803.41,515.1 C801.26,516.48 799.5,517.87 797.4,520.1 C795.3,522.33 792.55,525.43 790.82,528.5 C789.09,531.57 787.88,535.33 787.01,538.5 C786.14,541.67 785.87,544.83 785.6,547.5 C785.33,550.17 785.43,552.17 785.4,554.5 C785.37,556.83 785.4,560.33 785.4,561.5 Z" fill="none" stroke="#000" stroke-opacity="0.14" stroke-width="5.1" stroke-linejoin="round" stroke-linecap="round" />
<path d="M785.4,612.1 L831.4,630 L890.9,599.8 L890.9,546.5 C890.9,538.31 888.56,531.35 884.29,526.8 C880.01,522.25 874.05,520.37 867.4,521.49 L826.6,510.6 C825.5,510.37 821.91,509.33 820,509.2 C818.09,509.07 816.77,509.37 815.16,509.8 C813.55,510.23 812.28,510.92 810.32,511.8 C808.36,512.68 805.56,513.72 803.41,515.1 C801.26,516.48 799.5,517.87 797.4,520.1 C795.3,522.33 792.55,525.43 790.82,528.5 C789.09,531.57 787.88,535.33 787.01,538.5 C786.14,541.67 785.87,544.83 785.6,547.5 C785.33,550.17 785.43,552.17 785.4,554.5 C785.37,556.83 785.4,560.33 785.4,561.5 Z" fill="none" stroke="#6a6a6a" stroke-width="2.25" stroke-linejoin="round" stroke-linecap="round" />
<path d="M867.4,521.49 C861.63,522.46 855.64,525.64 850.18,530.61 C844.72,535.59 840.04,542.14 836.75,549.42 C833.46,556.71 831.7,564.39 831.7,571.5 L831.4,630" fill="none" stroke="#000" stroke-opacity="0.14" stroke-width="5.1" stroke-linejoin="round" stroke-linecap="round" />
<path d="M867.4,521.49 C861.63,522.46 855.64,525.64 850.18,530.61 C844.72,535.59 840.04,542.14 836.75,549.42 C833.46,556.71 831.7,564.39 831.7,571.5 L831.4,630" fill="none" stroke="#6a6a6a" stroke-width="2.25" stroke-linejoin="round" stroke-linecap="round" />
<line x1="113.6" y1="421.5" x2="113.6" y2="449.2" fill="none" stroke="#000" stroke-opacity="0.14" stroke-width="5.5" stroke-linejoin="round" stroke-linecap="round" />
<line x1="113.6" y1="421.5" x2="113.6" y2="449.2" fill="none" stroke="#6c6c6c" stroke-width="2.8" stroke-linejoin="round" stroke-linecap="round" />
<line x1="354.6" y1="306" x2="354.6" y2="335.2" fill="none" stroke="#000" stroke-opacity="0.14" stroke-width="5.5" stroke-linejoin="round" stroke-linecap="round" />
<line x1="354.6" y1="306" x2="354.6" y2="335.2" fill="none" stroke="#6c6c6c" stroke-width="2.8" stroke-linejoin="round" stroke-linecap="round" />
<line x1="1060" y1="499" x2="1060" y2="525.3" fill="none" stroke="#000" stroke-opacity="0.14" stroke-width="5.5" stroke-linejoin="round" stroke-linecap="round" />
<line x1="1060" y1="499" x2="1060" y2="525.3" fill="none" stroke="#6c6c6c" stroke-width="2.8" stroke-linejoin="round" stroke-linecap="round" />
<line x1="861.4" y1="614" x2="861.4" y2="641" fill="none" stroke="#000" stroke-opacity="0.14" stroke-width="5.5" stroke-linejoin="round" stroke-linecap="round" />
<line x1="861.4" y1="614" x2="861.4" y2="641" fill="none" stroke="#6c6c6c" stroke-width="2.8" stroke-linejoin="round" stroke-linecap="round" />
<line x1="378.3" y1="449.5" x2="378.3" y2="477.6" fill="none" stroke="#000" stroke-opacity="0.14" stroke-width="5.5" stroke-linejoin="round" stroke-linecap="round" />
<line x1="378.3" y1="449.5" x2="378.3" y2="477.6" fill="none" stroke="#6c6c6c" stroke-width="2.8" stroke-linejoin="round" stroke-linecap="round" />
<line x1="569.4" y1="167.6" x2="569.4" y2="195.9" fill="none" stroke="#000" stroke-opacity="0.14" stroke-width="5.5" stroke-linejoin="round" stroke-linecap="round" />
<line x1="569.4" y1="167.6" x2="569.4" y2="195.9" fill="none" stroke="#6c6c6c" stroke-width="2.8" stroke-linejoin="round" stroke-linecap="round" />
<line x1="642.6" y1="65.2" x2="642.6" y2="92.8" fill="none" stroke="#000" stroke-opacity="0.14" stroke-width="5.5" stroke-linejoin="round" stroke-linecap="round" />
<line x1="642.6" y1="65.2" x2="642.6" y2="92.8" fill="none" stroke="#6c6c6c" stroke-width="2.8" stroke-linejoin="round" stroke-linecap="round" />
<line x1="741" y1="92" x2="741" y2="119" fill="none" stroke="#000" stroke-opacity="0.14" stroke-width="5.5" stroke-linejoin="round" stroke-linecap="round" />
<line x1="741" y1="92" x2="741" y2="119" fill="none" stroke="#6c6c6c" stroke-width="2.8" stroke-linejoin="round" stroke-linecap="round" />
<line x1="469.8" y1="650.2" x2="469.8" y2="677.4" fill="none" stroke="#000" stroke-opacity="0.14" stroke-width="5.5" stroke-linejoin="round" stroke-linecap="round" />
<line x1="469.8" y1="650.2" x2="469.8" y2="677.4" fill="none" stroke="#6c6c6c" stroke-width="2.8" stroke-linejoin="round" stroke-linecap="round" />
<line x1="568.2" y1="680" x2="568.2" y2="704.5" fill="none" stroke="#000" stroke-opacity="0.14" stroke-width="5.5" stroke-linejoin="round" stroke-linecap="round" />
<line x1="568.2" y1="680" x2="568.2" y2="704.5" fill="none" stroke="#6c6c6c" stroke-width="2.8" stroke-linejoin="round" stroke-linecap="round" />
<line x1="637.7" y1="616.4" x2="637.7" y2="643.6" fill="none" stroke="#000" stroke-opacity="0.14" stroke-width="5.5" stroke-linejoin="round" stroke-linecap="round" />
<line x1="637.7" y1="616.4" x2="637.7" y2="643.6" fill="none" stroke="#6c6c6c" stroke-width="2.8" stroke-linejoin="round" stroke-linecap="round" />
<line x1="739.1" y1="608.2" x2="739.1" y2="633.6" fill="none" stroke="#000" stroke-opacity="0.14" stroke-width="5.5" stroke-linejoin="round" stroke-linecap="round" />
<line x1="739.1" y1="608.2" x2="739.1" y2="633.6" fill="none" stroke="#6c6c6c" stroke-width="2.8" stroke-linejoin="round" stroke-linecap="round" />
<line x1="471.5" y1="139.1" x2="471.8" y2="168.1" fill="none" stroke="#000" stroke-opacity="0.12" stroke-width="6" stroke-linejoin="round" stroke-linecap="round" />
<line x1="471.5" y1="139.1" x2="471.8" y2="168.1" fill="none" stroke="#a2a2a2" stroke-width="3" stroke-linejoin="round" stroke-linecap="round" />
<g style="will-change:transform"><path d="M117.3,484.5 L113.89,484.5 L113.89,462.75 C112.31,464.21 109.09,466.3 105.87,467.72 L105.87,464.42 C109.09,462.88 112.69,460.23 115.14,456.7 L117.3,456.7 Z" fill="#1e1e1e" stroke="#000" stroke-opacity="0.15" stroke-width="1.4"/>
<path d="M358.6,370.5 L355.19,370.5 L355.19,348.75 C353.61,350.21 350.39,352.3 347.17,353.72 L347.17,350.42 C350.39,348.88 353.99,346.23 356.44,342.7 L358.6,342.7 Z" fill="#1e1e1e" stroke="#000" stroke-opacity="0.15" stroke-width="1.4"/>
<path d="M1063.4,597.1 L1059.99,597.1 L1059.99,575.35 C1058.41,576.81 1055.19,578.9 1051.97,580.32 L1051.97,577.02 C1055.19,575.48 1058.79,572.83 1061.24,569.3 L1063.4,569.3 Z" fill="#1e1e1e" stroke="#000" stroke-opacity="0.15" stroke-width="1.4"/>
<path d="M866.8,677.5 L863.39,677.5 L863.39,655.75 C861.81,657.21 858.59,659.3 855.37,660.72 L855.37,657.42 C858.59,655.88 862.19,653.23 864.64,649.7 L866.8,649.7 Z" fill="#1e1e1e" stroke="#000" stroke-opacity="0.15" stroke-width="1.4"/>
<text x="378.3" y="513.3" text-anchor="middle" font-family="Liberation Sans" font-size="40" fill="#1e1e1e" stroke="#fff" stroke-opacity="0.5" stroke-width="0.6">2</text>
<text x="470.7" y="131.6" text-anchor="middle" font-family="Liberation Sans" font-size="40" fill="#1e1e1e" stroke="#fff" stroke-opacity="0.5" stroke-width="0.6">4</text>
<text x="567.55" y="157.2" text-anchor="middle" font-family="Liberation Sans" font-size="40" fill="#1e1e1e" stroke="#fff" stroke-opacity="0.5" stroke-width="0.6">4</text>
<text x="642.35" y="58.9" text-anchor="middle" font-family="Liberation Sans" font-size="40" fill="#1e1e1e" stroke="#fff" stroke-opacity="0.5" stroke-width="0.6">4</text>
<text x="738.25" y="82.4" text-anchor="middle" font-family="Liberation Sans" font-size="40" fill="#1e1e1e" stroke="#fff" stroke-opacity="0.5" stroke-width="0.6">4</text>
<text x="469.4" y="714.6" text-anchor="middle" font-family="Liberation Sans" font-size="40" fill="#1e1e1e" stroke="#fff" stroke-opacity="0.5" stroke-width="0.6">3</text>
<text x="569.1" y="739.6" text-anchor="middle" font-family="Liberation Sans" font-size="40" fill="#1e1e1e" stroke="#fff" stroke-opacity="0.5" stroke-width="0.6">3</text>
<text x="638.6" y="679.6" text-anchor="middle" font-family="Liberation Sans" font-size="40" fill="#1e1e1e" stroke="#fff" stroke-opacity="0.5" stroke-width="0.6">3</text>
<text x="739.55" y="670.5" text-anchor="middle" font-family="Liberation Sans" font-size="40" fill="#1e1e1e" stroke="#fff" stroke-opacity="0.5" stroke-width="0.6">3</text></g>
</g>
</svg>
</body></html>
